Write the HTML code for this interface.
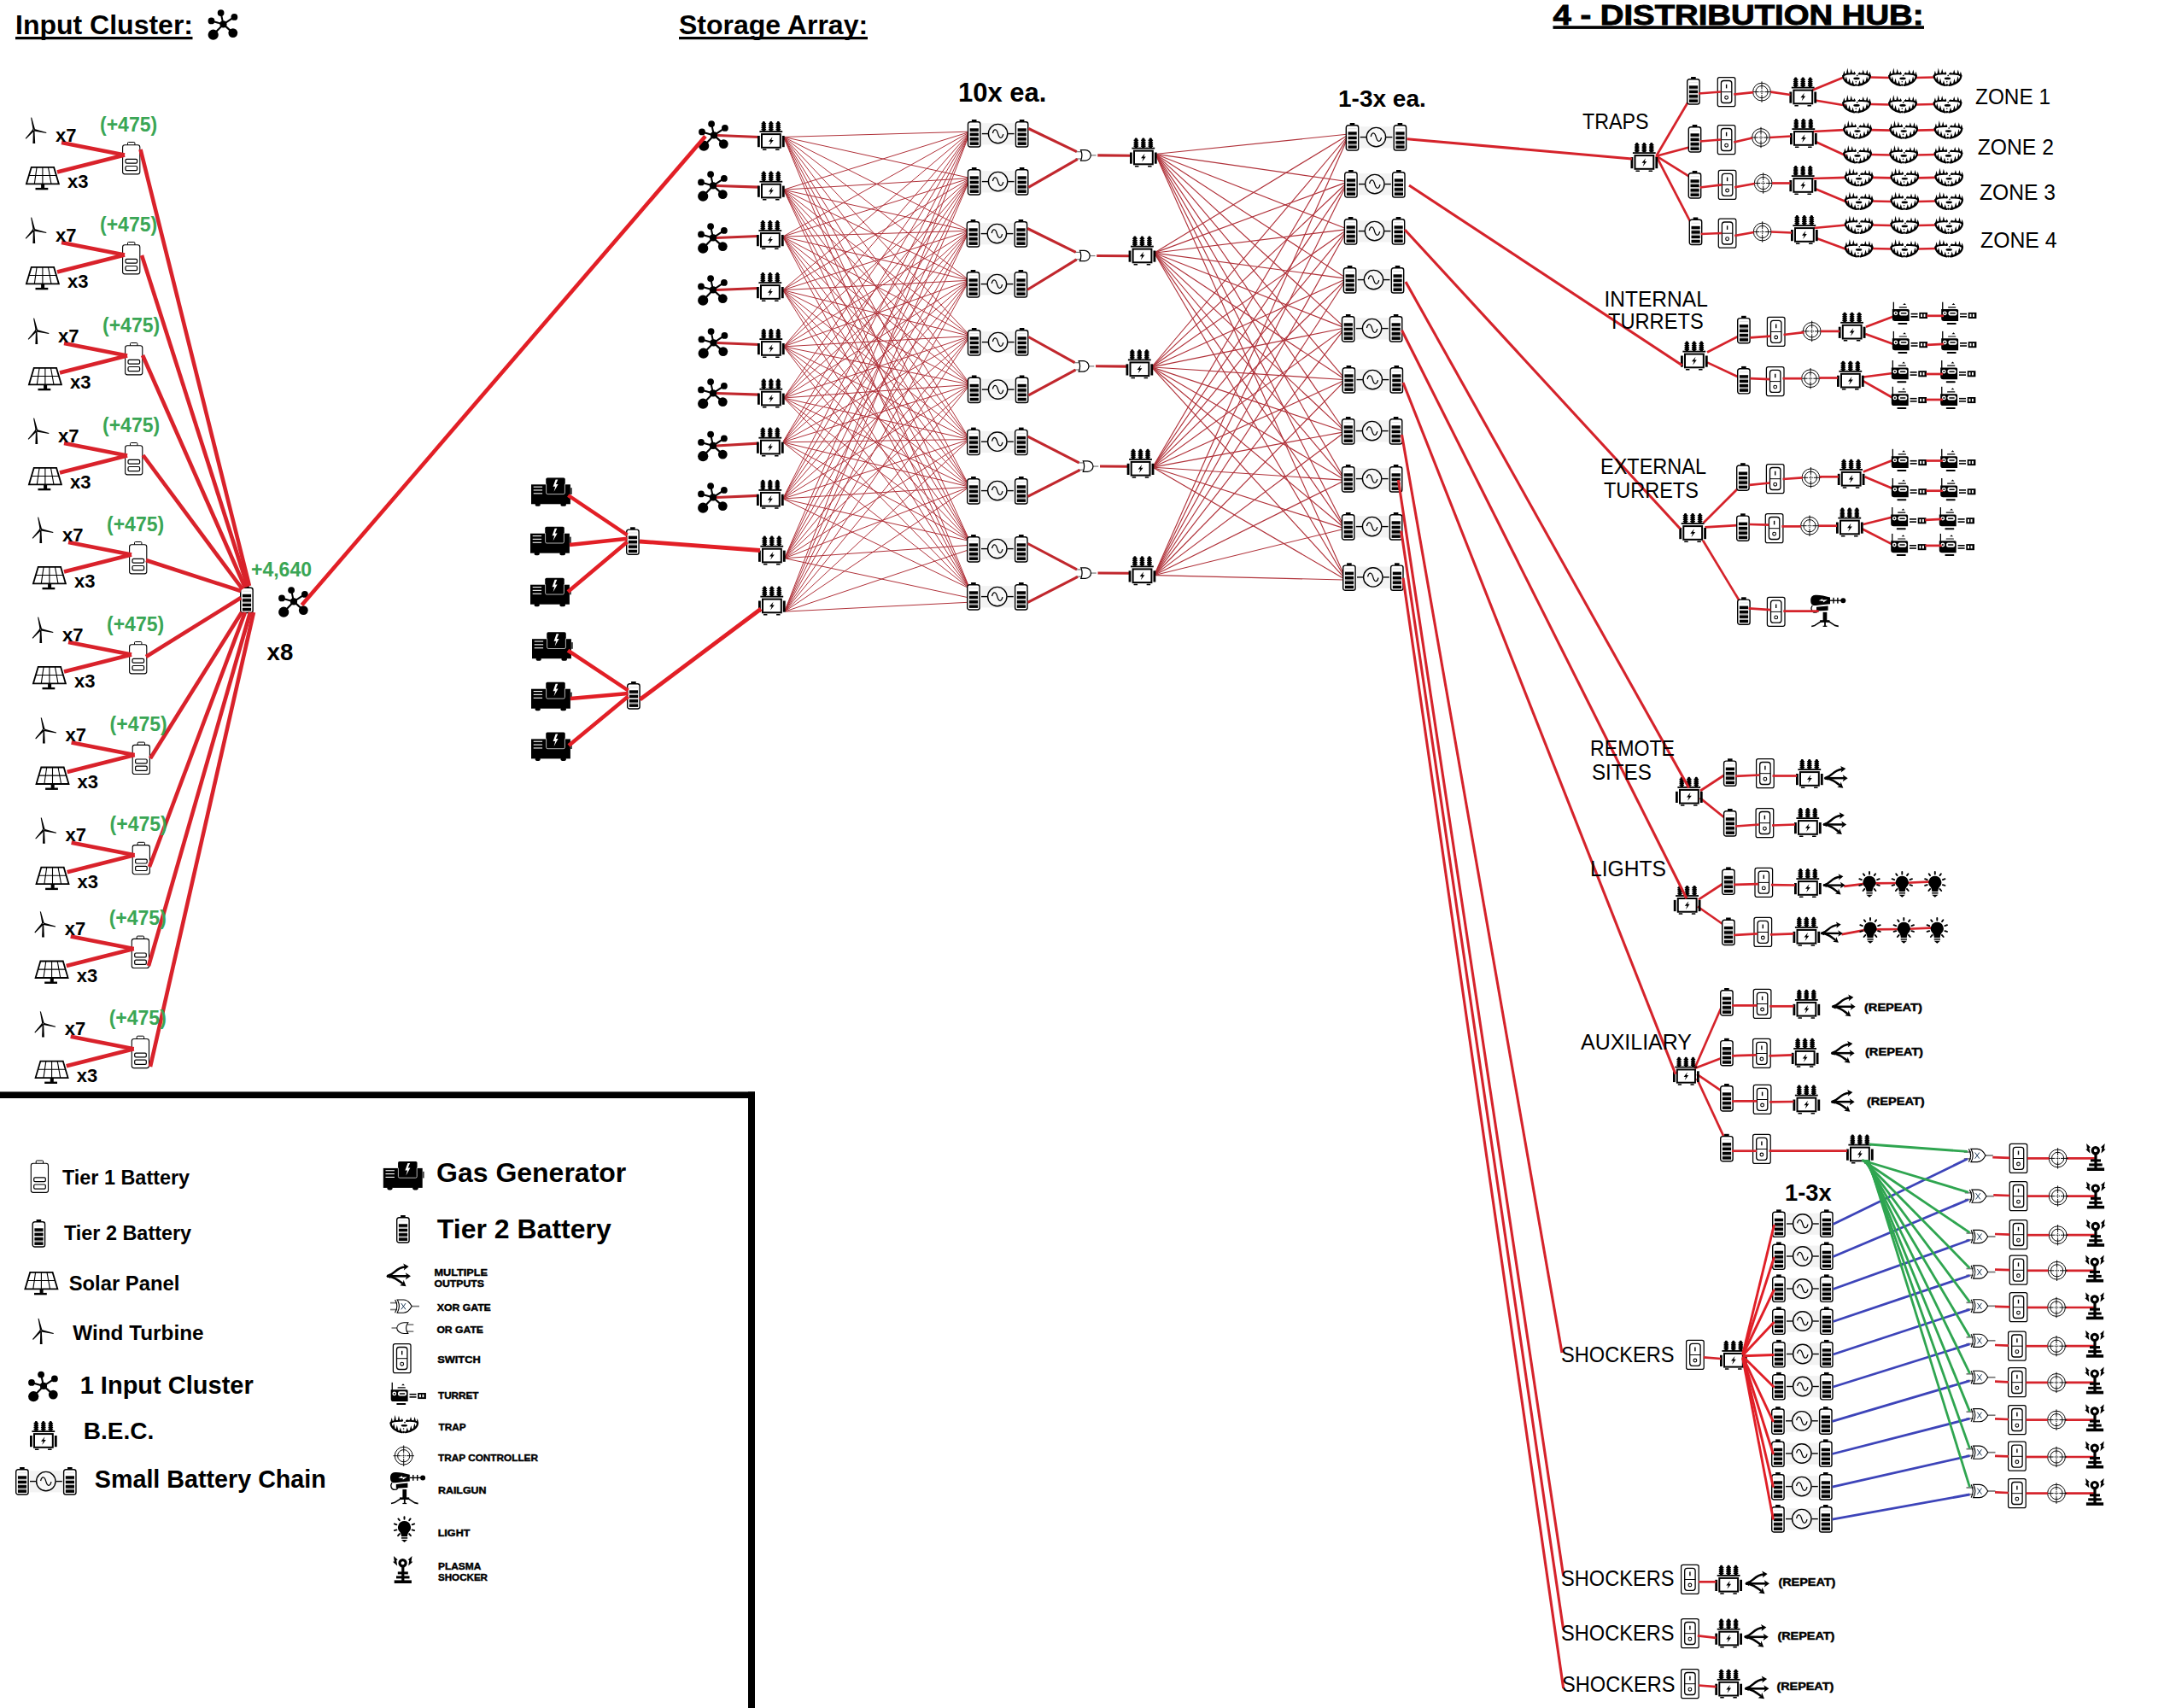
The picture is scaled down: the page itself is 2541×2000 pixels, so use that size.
<!DOCTYPE html>
<html><head><meta charset="utf-8"><title>Power grid diagram</title>
<style>
html,body{margin:0;padding:0;background:#fff;}
body{width:2541px;height:2000px;overflow:hidden;}
svg{display:block;font-family:"Liberation Sans",sans-serif;}
</style></head><body>
<svg width="2541" height="2000" viewBox="0 0 2541 2000">
<defs><symbol id="cluster" viewBox="0 0 35 36" overflow="visible"><line x1="18" y1="17.4" x2="15.1" y2="4.1" stroke="#000" stroke-width="2.1"/><line x1="18" y1="17.4" x2="30.9" y2="8.9" stroke="#000" stroke-width="2.1"/><line x1="18" y1="17.4" x2="4.0" y2="13.4" stroke="#000" stroke-width="2.1"/><line x1="18" y1="17.4" x2="6.2" y2="29.7" stroke="#000" stroke-width="2.1"/><line x1="18" y1="17.4" x2="29.3" y2="27.6" stroke="#000" stroke-width="2.1"/><circle cx="15.1" cy="4.1" r="3.9"/><circle cx="30.9" cy="8.9" r="3.9"/><circle cx="4.0" cy="13.4" r="3.9"/><circle cx="6.2" cy="29.7" r="6.1"/><circle cx="29.3" cy="27.6" r="5.4"/><circle cx="18" cy="17.4" r="4.1"/></symbol><symbol id="bec" viewBox="0 0 32 34" overflow="visible"><rect x="5.9" y="0" width="2.8" height="2.2" rx="1"/><rect x="5.6" y="1" width="3.4" height="10.5"/><rect x="4.4" y="1.9" width="5.8" height="1.7" rx="0.8"/><rect x="4.4" y="4.2" width="5.8" height="1.7" rx="0.8"/><rect x="4.4" y="6.5" width="5.8" height="1.7" rx="0.8"/><rect x="4.4" y="8.8" width="5.8" height="1.7" rx="0.8"/><rect x="14.4" y="0" width="2.8" height="2.2" rx="1"/><rect x="14.100000000000001" y="1" width="3.4" height="10.5"/><rect x="12.9" y="1.9" width="5.8" height="1.7" rx="0.8"/><rect x="12.9" y="4.2" width="5.8" height="1.7" rx="0.8"/><rect x="12.9" y="6.5" width="5.8" height="1.7" rx="0.8"/><rect x="12.9" y="8.8" width="5.8" height="1.7" rx="0.8"/><rect x="22.900000000000002" y="0" width="2.8" height="2.2" rx="1"/><rect x="22.6" y="1" width="3.4" height="10.5"/><rect x="21.400000000000002" y="1.9" width="5.8" height="1.7" rx="0.8"/><rect x="21.400000000000002" y="4.2" width="5.8" height="1.7" rx="0.8"/><rect x="21.400000000000002" y="6.5" width="5.8" height="1.7" rx="0.8"/><rect x="21.400000000000002" y="8.8" width="5.8" height="1.7" rx="0.8"/><rect x="2.4" y="11.2" width="26.8" height="1.8"/><rect x="5" y="15.1" width="21.8" height="15.7" fill="#fff" stroke="#000" stroke-width="2"/><rect x="0" y="17" width="2.8" height="13.2"/><rect x="28.9" y="17" width="2.8" height="13.2"/><rect x="5.9" y="32.4" width="4.6" height="1.5" rx="0.5"/><rect x="21" y="32.4" width="4.6" height="1.5" rx="0.5"/><polygon points="17.5,18.3 13,23.8 15.6,23.8 14.2,28 18.8,21.9 16.3,21.9"/></symbol><symbol id="bat2" viewBox="0 0 16 32.7" overflow="visible"><rect x="5.1" y="0" width="5.6" height="3"/><rect x="0.7" y="2.8" width="14.4" height="29.2" rx="2.6" fill="#fff" stroke="#000" stroke-width="1.4"/><rect x="2.9" y="6.2" width="10.2" height="1" fill="#e2e2e2"/><rect x="2.9" y="10.3" width="10.2" height="3.5"/><rect x="2.9" y="15.7" width="10.2" height="3.5"/><rect x="2.9" y="21.1" width="10.2" height="3.5"/><rect x="2.9" y="26.4" width="10.2" height="3.5"/><rect x="2.9" y="14.4" width="10.2" height="0.8" fill="#9a9a9a"/><rect x="2.9" y="19.8" width="10.2" height="0.8" fill="#9a9a9a"/><rect x="2.9" y="25.2" width="10.2" height="0.8" fill="#9a9a9a"/></symbol><symbol id="chain" viewBox="0 0 71.7 32.7" overflow="visible"><rect x="17" y="4.2" width="38" height="25.2" fill="#f3f3f3"/><rect x="5.1" y="0" width="5.6" height="3"/><rect x="0.7" y="2.8" width="14.4" height="29.2" rx="2.6" fill="#fff" stroke="#000" stroke-width="1.4"/><rect x="2.9" y="6.2" width="10.2" height="1" fill="#e2e2e2"/><rect x="2.9" y="10.3" width="10.2" height="3.5"/><rect x="2.9" y="15.7" width="10.2" height="3.5"/><rect x="2.9" y="21.1" width="10.2" height="3.5"/><rect x="2.9" y="26.4" width="10.2" height="3.5"/><rect x="2.9" y="14.4" width="10.2" height="0.8" fill="#9a9a9a"/><rect x="2.9" y="19.8" width="10.2" height="0.8" fill="#9a9a9a"/><rect x="2.9" y="25.2" width="10.2" height="0.8" fill="#9a9a9a"/><rect x="61.0" y="0" width="5.6" height="3"/><rect x="56.6" y="2.8" width="14.4" height="29.2" rx="2.6" fill="#fff" stroke="#000" stroke-width="1.4"/><rect x="58.8" y="6.2" width="10.2" height="1" fill="#e2e2e2"/><rect x="58.8" y="10.3" width="10.2" height="3.5"/><rect x="58.8" y="15.7" width="10.2" height="3.5"/><rect x="58.8" y="21.1" width="10.2" height="3.5"/><rect x="58.8" y="26.4" width="10.2" height="3.5"/><rect x="58.8" y="14.4" width="10.2" height="0.8" fill="#9a9a9a"/><rect x="58.8" y="19.8" width="10.2" height="0.8" fill="#9a9a9a"/><rect x="58.8" y="25.2" width="10.2" height="0.8" fill="#9a9a9a"/><line x1="17" y1="16.6" x2="24.4" y2="16.6" stroke="#000" stroke-width="1.4"/><line x1="47.4" y1="16.6" x2="54.8" y2="16.6" stroke="#000" stroke-width="1.4"/><circle cx="35.8" cy="16.6" r="11.2" fill="#f8f8f8" stroke="#000" stroke-width="1.4"/><path d="M29.6,16 C31,10.3 34.2,10.6 35.8,16.6 C37.4,22.6 40.6,22.9 42,17.2" fill="none" stroke="#000" stroke-width="1.3"/></symbol><symbol id="gen" viewBox="0 0 48 33.2" overflow="visible"><rect x="0" y="7.7" width="45.9" height="23" /><rect x="45.9" y="11.6" width="2" height="7.7" fill="#444"/><rect x="4.6" y="29.5" width="6.2" height="3.7" rx="1.8"/><rect x="34.4" y="29.5" width="6.6" height="3.7" rx="1.8"/><rect x="17.6" y="0.2" width="21.8" height="18.8" rx="1.6" stroke="#fff" stroke-width="0.7"/><rect x="17.3" y="-0.2" width="22.4" height="8" rx="1.6"/><rect x="2.7" y="10.0" width="10.4" height="1.1" fill="#fff"/><rect x="2.7" y="13.8" width="10.4" height="1.1" fill="#fff"/><rect x="2.7" y="17.7" width="10.4" height="1.1" fill="#fff"/><polygon points="28.6,1.8 25.6,10.2 28.2,10.2 26.6,16.2 31.6,7.4 28.9,7.4 31.3,1.8" fill="#fff"/></symbol><symbol id="or" viewBox="0 0 24.3 13.3" overflow="visible"><g stroke="#777" stroke-width="1.2"><line x1="0" y1="2.5" x2="7.2" y2="2.5"/><line x1="0" y1="10.8" x2="7.2" y2="10.8"/><line x1="18" y1="6.65" x2="24.3" y2="6.65"/></g><path d="M6.3,0.45 L11.5,0.45 C15.2,0.45 18,3.4 18,6.65 C18,9.9 15.2,12.85 11.5,12.85 L6.3,12.85 Q8.9,6.65 6.3,0.45 Z" fill="#fff" stroke="#000" stroke-width="1.25"/></symbol><symbol id="orl" viewBox="0 0 25.8 13.8" overflow="visible"><g stroke="#7a7a7a" stroke-width="1.6"><line x1="18.5" y1="2.9" x2="25.8" y2="2.9"/><line x1="18.5" y1="10.9" x2="25.8" y2="10.9"/><line x1="0" y1="6.8" x2="6.2" y2="6.8"/></g><path d="M19.3,0.5 L14.6,0.5 C10.2,0.5 6.2,3.4 6.2,6.8 C6.2,10.2 10.2,13.3 14.6,13.3 L19.3,13.3 Q14.8,6.8 19.3,0.5 Z" fill="#fff" stroke="#000" stroke-width="1.1"/></symbol><symbol id="xor" viewBox="0 0 34 16.2" overflow="visible"><g stroke="#777" stroke-width="1.7"><line x1="0" y1="4.1" x2="8.2" y2="4.1"/><line x1="0" y1="12" x2="8.2" y2="12"/><line x1="25.2" y1="8.1" x2="34" y2="8.1"/></g><path d="M8.2,0.5 L15.5,0.5 C19.5,0.5 23.3,4.4 25.2,8.1 C23.3,11.8 19.5,15.7 15.5,15.7 L8.2,15.7 Q12.6,8.1 8.2,0.5 Z" fill="#fff" stroke="#000" stroke-width="1.1"/><path d="M5.6,0.5 Q10,8.1 5.6,15.7" fill="none" stroke="#000" stroke-width="1.1"/><path d="M12.8,4.6 L18,11.8 M18,4.6 L12.8,11.8" fill="none" stroke="#1d3a58" stroke-width="1"/></symbol><symbol id="sw" viewBox="0 0 21.8 35.2" overflow="visible"><rect x="0.6" y="0.6" width="20.6" height="34" rx="2.2" fill="#fff" stroke="#000" stroke-width="1.25"/><rect x="4.7" y="4.5" width="12.4" height="26" rx="3" fill="#fff" stroke="#000" stroke-width="1.3"/><line x1="4.6" y1="17.7" x2="17.2" y2="17.7" stroke="#000" stroke-width="1"/><line x1="10.9" y1="8.8" x2="10.9" y2="13.4" stroke="#000" stroke-width="1.4"/><circle cx="10.9" cy="24.2" r="1.9" fill="none" stroke="#000" stroke-width="1.1"/></symbol><symbol id="ctl" viewBox="0 0 24.4 24.4" overflow="visible"><g fill="none" stroke="#0a0a0a" stroke-width="1"><circle cx="12.2" cy="12.2" r="10.4"/><circle cx="12.2" cy="12.2" r="7.1"/><path d="M12.2,0 V8.799999999999999 M12.2,15.6 V24.4 M0,12.2 H8.799999999999999 M15.6,12.2 H24.4"/><path d="M12.2,9.799999999999999 V11.0 M12.2,13.399999999999999 V14.6 M9.799999999999999,12.2 H11.0 M13.399999999999999,12.2 H14.6"/></g><circle cx="12.2" cy="12.2" r="0.8"/></symbol><symbol id="trap" viewBox="0 0 34 22" overflow="visible"><path d="M1.3,10.2 C1.6,15.8 8,19.8 14.2,20.9 M18.8,20.9 C25.6,19.8 32.4,15.8 32.7,10.2" fill="none" stroke="#000" stroke-width="2.3" stroke-linecap="round"/><path d="M1.2,9.8 C3,8 9,7.2 14.6,7.4 M19.6,7.6 C25,7.2 31,8 32.8,10" fill="none" stroke="#000" stroke-width="2" stroke-linecap="round"/><polygon points="0.8999999999999999,9.2 2.4,3.7 3.9,9.2"/><polygon points="4.8,8 6.3,0.4 7.8,8"/><polygon points="9.2,7.6 10.7,1.5 12.2,7.6"/><polygon points="13.0,7.8 14.5,4.4 16.0,7.8"/><polygon points="19.1,8 20.6,5.2 22.1,8"/><polygon points="23.2,7.8 24.7,2.6 26.2,7.8"/><polygon points="27.8,8.2 29.3,2.6 30.8,8.2"/><polygon points="30.9,9.8 32.4,4.8 33.9,9.8"/><polygon points="3.3,16 4.8,10.3 6.3,16"/><polygon points="7.0,18.4 8.5,12.5 10.0,18.4"/><polygon points="11.0,20.2 12.5,15.1 14.0,20.2"/><polygon points="19.0,20.2 20.5,15.1 22.0,20.2"/><polygon points="23.5,18.4 25,12.9 26.5,18.4"/><polygon points="27.6,16 29.1,10.3 30.6,16"/><ellipse cx="17" cy="12.9" rx="3.7" ry="1.3"/><circle cx="17.7" cy="9.3" r="0.85"/><circle cx="16.3" cy="16.7" r="0.8"/><circle cx="16.3" cy="20.6" r="1.4"/></symbol><symbol id="turret" viewBox="0 0 41.4 26.2" overflow="visible"><rect x="1.1" y="0" width="1.3" height="10"/><polygon points="12.6,3.4 14.5,1.4 16.4,3.4"/><rect x="8" y="5.5" width="9.4" height="1.2" rx="0.6"/><path d="M0.2,8.4 H18.6 Q20.1,8.4 20.1,9.9 V22.3 H3.4 Q0.2,22.3 0.2,19.1 Z"/><circle cx="4.3" cy="13.1" r="1.7" fill="#000" stroke="#fff" stroke-width="1.4"/><rect x="8.5" y="10.5" width="10" height="5.3" rx="2" fill="#fff"/><rect x="10.2" y="12.4" width="6.7" height="1.5" rx="0.7"/><rect x="6.7" y="24.2" width="11.1" height="2" rx="1"/><rect x="22" y="13.1" width="8" height="1.6"/><rect x="22" y="16.3" width="8" height="1.6"/><rect x="31.7" y="12.2" width="9.7" height="7.1"/><rect x="33.5" y="14" width="1.9" height="3.4" fill="#fff"/><rect x="37" y="14" width="1.9" height="3.4" fill="#fff"/></symbol><symbol id="rail" viewBox="0 0 41.2 37.4" overflow="visible"><path d="M5.5,0.2 C10,-0.3 16,1 23,3 V10.6 C16,11.2 9,12 5,12.4 C1.5,12.6 0.2,10 0.2,6.4 C0.2,2.8 2,0.5 5.5,0.2 Z"/><polygon points="9.6,6.7 14.4,4.3 14,5.9 20,5.6 14.8,8.9 15.2,7.4" fill="#fff"/><rect x="23" y="5.9" width="13.5" height="1.4"/><rect x="26.3" y="3.2" width="1.4" height="6.8"/><rect x="31.2" y="3.2" width="1.4" height="6.8"/><circle cx="38.3" cy="6.6" r="3"/><path d="M2.2,12.4 C0,15.6 1,20.6 5.4,20.6 C8.6,20.6 9.6,18.4 9,16.2" fill="none" stroke="#000" stroke-width="1.3"/><polygon points="7,14.2 20.6,12.8 20.6,18.2 7,18.9"/><rect x="14.6" y="20.2" width="4.7" height="10.4"/><rect x="11.2" y="29.6" width="11.2" height="2.6"/><path d="M12.4,31 L5,35.8 L1.2,36.8 M21.4,31 L28.6,35.8 L32.8,36.8" fill="none" stroke="#000" stroke-width="1.6" stroke-linejoin="round"/><rect x="16.1" y="31" width="1.8" height="6"/><rect x="14.6" y="36.1" width="4.8" height="1.2"/></symbol><symbol id="light" viewBox="0 0 26.4 31" overflow="visible"><path d="M13.3,6 A7.5,7.5 0 0 1 18.6,18.8 C17.4,20.4 16.9,22.2 16.8,24.3 H9.8 C9.7,22.2 9.2,20.4 8,18.8 A7.5,7.5 0 0 1 13.3,6 Z"/><rect x="9.7" y="25.2" width="7.3" height="1.5"/><polygon points="9.7,28 17,28 13.3,31"/><g stroke="#000" stroke-width="1.9" stroke-linecap="round"><line x1="13.3" y1="1.2" x2="13.3" y2="3.7"/><line x1="6.2" y1="3.4" x2="7.6" y2="5.3"/><line x1="20.4" y1="3.4" x2="19" y2="5.3"/><line x1="1.6" y1="9.4" x2="4.2" y2="10.3"/><line x1="25" y1="9.4" x2="22.4" y2="10.3"/><line x1="1.6" y1="17.1" x2="4.2" y2="16.4"/><line x1="25" y1="17.1" x2="22.4" y2="16.4"/><line x1="5.9" y1="23.2" x2="7.7" y2="21.1"/><line x1="20.7" y1="23.2" x2="18.9" y2="21.1"/></g></symbol><symbol id="shock" viewBox="0 0 23 32" overflow="visible"><circle cx="11.4" cy="8.2" r="3.6" fill="#fff" stroke="#000" stroke-width="3.2"/><rect x="10" y="12.4" width="3.2" height="17"/><rect x="5.6" y="18.4" width="12" height="3"/><rect x="3.8" y="23.4" width="15.5" height="3"/><rect x="1.5" y="28.4" width="20.2" height="3.6"/><polygon points="0.7,0 5.6,4.5 4,4.9 5,11.4 -0.2,6.8 1.6,6.4"/><polygon points="22.3,0 17.4,4.5 19,4.9 18,11.4 23.2,6.8 21.4,6.4"/></symbol><symbol id="arrow" viewBox="0 0 29 26.4" overflow="visible"><g fill="none" stroke="#000" stroke-width="2.6"><path d="M1,14.3 H24.5"/><path d="M1.2,14.3 C11,12.4 10.5,4.4 22.4,3.5"/><path d="M1.2,14.3 C9,15 13,18 19.6,23"/></g><polygon points="0,14.3 5,11.6 5,17"/><polygon points="29,14.3 22.8,10.2 24.3,14.3 22.8,18.4"/><polygon points="26.6,2.9 20.2,-0.4 21.8,3.5 20.8,7.5"/><polygon points="23.5,26.2 16.2,25.2 19.8,22.8 20.6,18.7"/></symbol><symbol id="wind" viewBox="0 0 25 30.5" overflow="visible"><polygon points="9.4,16 11,16 11.7,30.5 8.9,30.5"/><polygon points="6.6,0.2 7.7,0.4 11.5,13.8 9.1,14.6"/><polygon points="24.9,17.6 24.7,18.6 10.2,16 10.9,13.6"/><polygon points="0.2,24.6 0.9,25.4 10.9,15.6 9,13.8"/><circle cx="10.1" cy="14.6" r="1.5"/><circle cx="10.1" cy="14.6" r="0.5" fill="#fff"/></symbol><symbol id="solar" viewBox="0 0 40.8 27.3" overflow="visible"><polygon points="7.2,0.9 33.6,0.9 39.4,20.4 1.4,20.4" fill="#fff" stroke="#000" stroke-width="1.8"/><g stroke="#000" stroke-width="1.1"><line x1="13.6" y1="0.9" x2="10.8" y2="20.4"/><line x1="20.4" y1="0.9" x2="20.4" y2="20.4"/><line x1="27" y1="0.9" x2="30.5" y2="20.4"/><line x1="4" y1="10.5" x2="36.7" y2="10.5"/></g><rect x="18.6" y="20.4" width="4" height="5"/><rect x="12" y="24.9" width="14.8" height="2.4"/></symbol><symbol id="bat1" viewBox="0 0 21.4 38.5" overflow="visible"><rect x="6.5" y="0.5" width="8.4" height="4" rx="1" fill="#fff" stroke="#000" stroke-width="1"/><rect x="0.6" y="3.8" width="20.2" height="34.1" rx="2.6" fill="#fff" stroke="#000" stroke-width="1.1"/><rect x="4" y="20.4" width="13.6" height="4.8" rx="1.4" fill="#fff" stroke="#000" stroke-width="1.2"/><rect x="4" y="28.5" width="13.6" height="5.2" rx="1.4" fill="#fff" stroke="#000" stroke-width="1.2"/></symbol></defs>
<rect width="2541" height="2000" fill="#fff"/>
<g id="lines-back">
<line x1="840" y1="158.5" x2="889" y2="160.5" stroke="#c1272d" stroke-width="3.2"/>
<line x1="839" y1="217.5" x2="889" y2="219.1" stroke="#c1272d" stroke-width="3.2"/>
<line x1="839" y1="278.5" x2="888" y2="276.5" stroke="#c1272d" stroke-width="3.2"/>
<line x1="839" y1="339.5" x2="888" y2="337.5" stroke="#c1272d" stroke-width="3.2"/>
<line x1="839.5" y1="401.5" x2="889" y2="403.5" stroke="#c1272d" stroke-width="3.2"/>
<line x1="839" y1="460.5" x2="889" y2="462.1" stroke="#c1272d" stroke-width="3.2"/>
<line x1="839" y1="522" x2="888" y2="519.1" stroke="#c1272d" stroke-width="3.2"/>
<line x1="839" y1="582.5" x2="888" y2="580.3" stroke="#c1272d" stroke-width="3.2"/>
<line x1="918.5" y1="160.4" x2="1134.3" y2="154.2" stroke="#b0323a" stroke-width="1.0"/>
<line x1="918.5" y1="160.6" x2="1134.3" y2="208.1" stroke="#b0323a" stroke-width="1.0"/>
<line x1="918.5" y1="160.9" x2="1133.1" y2="269.2" stroke="#b0323a" stroke-width="1.0"/>
<line x1="918.5" y1="161.1" x2="1133.1" y2="326.7" stroke="#b0323a" stroke-width="1.0"/>
<line x1="918.5" y1="161.4" x2="1134.3" y2="391.4" stroke="#b0323a" stroke-width="1.0"/>
<line x1="918.5" y1="161.6" x2="1134.3" y2="447.7" stroke="#b0323a" stroke-width="1.0"/>
<line x1="918.5" y1="161.9" x2="1133.5" y2="511.3" stroke="#b0323a" stroke-width="1.0"/>
<line x1="918.5" y1="162.1" x2="1133.5" y2="566.4" stroke="#b0323a" stroke-width="1.0"/>
<line x1="918.5" y1="162.4" x2="1133.5" y2="629.1" stroke="#b0323a" stroke-width="1.0"/>
<line x1="918.5" y1="162.6" x2="1133.5" y2="684.3" stroke="#b0323a" stroke-width="1.0"/>
<line x1="918.5" y1="221.9" x2="1134.3" y2="154.8" stroke="#b0323a" stroke-width="1.0"/>
<line x1="918.5" y1="222.1" x2="1134.3" y2="208.7" stroke="#b0323a" stroke-width="1.0"/>
<line x1="918.5" y1="222.4" x2="1133.1" y2="269.8" stroke="#b0323a" stroke-width="1.0"/>
<line x1="918.5" y1="222.6" x2="1133.1" y2="327.3" stroke="#b0323a" stroke-width="1.0"/>
<line x1="918.5" y1="222.9" x2="1134.3" y2="392" stroke="#b0323a" stroke-width="1.0"/>
<line x1="918.5" y1="223.1" x2="1134.3" y2="448.3" stroke="#b0323a" stroke-width="1.0"/>
<line x1="918.5" y1="223.4" x2="1133.5" y2="511.9" stroke="#b0323a" stroke-width="1.0"/>
<line x1="918.5" y1="223.6" x2="1133.5" y2="567" stroke="#b0323a" stroke-width="1.0"/>
<line x1="918.5" y1="223.9" x2="1133.5" y2="629.7" stroke="#b0323a" stroke-width="1.0"/>
<line x1="918.5" y1="224.1" x2="1133.5" y2="684.9" stroke="#b0323a" stroke-width="1.0"/>
<line x1="917.5" y1="276.6" x2="1134.3" y2="155.3" stroke="#b0323a" stroke-width="1.0"/>
<line x1="917.5" y1="276.8" x2="1134.3" y2="209.2" stroke="#b0323a" stroke-width="1.0"/>
<line x1="917.5" y1="277.1" x2="1133.1" y2="270.3" stroke="#b0323a" stroke-width="1.0"/>
<line x1="917.5" y1="277.3" x2="1133.1" y2="327.8" stroke="#b0323a" stroke-width="1.0"/>
<line x1="917.5" y1="277.6" x2="1134.3" y2="392.5" stroke="#b0323a" stroke-width="1.0"/>
<line x1="917.5" y1="277.8" x2="1134.3" y2="448.8" stroke="#b0323a" stroke-width="1.0"/>
<line x1="917.5" y1="278.1" x2="1133.5" y2="512.4" stroke="#b0323a" stroke-width="1.0"/>
<line x1="917.5" y1="278.3" x2="1133.5" y2="567.5" stroke="#b0323a" stroke-width="1.0"/>
<line x1="917.5" y1="278.6" x2="1133.5" y2="630.2" stroke="#b0323a" stroke-width="1.0"/>
<line x1="917.5" y1="278.8" x2="1133.5" y2="685.4" stroke="#b0323a" stroke-width="1.0"/>
<line x1="917.5" y1="338.9" x2="1134.3" y2="155.9" stroke="#b0323a" stroke-width="1.0"/>
<line x1="917.5" y1="339.1" x2="1134.3" y2="209.8" stroke="#b0323a" stroke-width="1.0"/>
<line x1="917.5" y1="339.4" x2="1133.1" y2="270.9" stroke="#b0323a" stroke-width="1.0"/>
<line x1="917.5" y1="339.6" x2="1133.1" y2="328.4" stroke="#b0323a" stroke-width="1.0"/>
<line x1="917.5" y1="339.9" x2="1134.3" y2="393.1" stroke="#b0323a" stroke-width="1.0"/>
<line x1="917.5" y1="340.1" x2="1134.3" y2="449.4" stroke="#b0323a" stroke-width="1.0"/>
<line x1="917.5" y1="340.4" x2="1133.5" y2="513" stroke="#b0323a" stroke-width="1.0"/>
<line x1="917.5" y1="340.6" x2="1133.5" y2="568.1" stroke="#b0323a" stroke-width="1.0"/>
<line x1="917.5" y1="340.9" x2="1133.5" y2="630.8" stroke="#b0323a" stroke-width="1.0"/>
<line x1="917.5" y1="341.1" x2="1133.5" y2="686" stroke="#b0323a" stroke-width="1.0"/>
<line x1="918.5" y1="404.8" x2="1134.3" y2="156.4" stroke="#b0323a" stroke-width="1.0"/>
<line x1="918.5" y1="405" x2="1134.3" y2="210.3" stroke="#b0323a" stroke-width="1.0"/>
<line x1="918.5" y1="405.3" x2="1133.1" y2="271.4" stroke="#b0323a" stroke-width="1.0"/>
<line x1="918.5" y1="405.5" x2="1133.1" y2="328.9" stroke="#b0323a" stroke-width="1.0"/>
<line x1="918.5" y1="405.8" x2="1134.3" y2="393.6" stroke="#b0323a" stroke-width="1.0"/>
<line x1="918.5" y1="406" x2="1134.3" y2="449.9" stroke="#b0323a" stroke-width="1.0"/>
<line x1="918.5" y1="406.3" x2="1133.5" y2="513.5" stroke="#b0323a" stroke-width="1.0"/>
<line x1="918.5" y1="406.5" x2="1133.5" y2="568.6" stroke="#b0323a" stroke-width="1.0"/>
<line x1="918.5" y1="406.8" x2="1133.5" y2="631.3" stroke="#b0323a" stroke-width="1.0"/>
<line x1="918.5" y1="407" x2="1133.5" y2="686.5" stroke="#b0323a" stroke-width="1.0"/>
<line x1="918.5" y1="464.7" x2="1134.3" y2="157" stroke="#b0323a" stroke-width="1.0"/>
<line x1="918.5" y1="464.9" x2="1134.3" y2="210.9" stroke="#b0323a" stroke-width="1.0"/>
<line x1="918.5" y1="465.2" x2="1133.1" y2="272" stroke="#b0323a" stroke-width="1.0"/>
<line x1="918.5" y1="465.4" x2="1133.1" y2="329.5" stroke="#b0323a" stroke-width="1.0"/>
<line x1="918.5" y1="465.7" x2="1134.3" y2="394.2" stroke="#b0323a" stroke-width="1.0"/>
<line x1="918.5" y1="465.9" x2="1134.3" y2="450.5" stroke="#b0323a" stroke-width="1.0"/>
<line x1="918.5" y1="466.2" x2="1133.5" y2="514.1" stroke="#b0323a" stroke-width="1.0"/>
<line x1="918.5" y1="466.4" x2="1133.5" y2="569.2" stroke="#b0323a" stroke-width="1.0"/>
<line x1="918.5" y1="466.7" x2="1133.5" y2="631.9" stroke="#b0323a" stroke-width="1.0"/>
<line x1="918.5" y1="466.9" x2="1133.5" y2="687.1" stroke="#b0323a" stroke-width="1.0"/>
<line x1="917.5" y1="516.3" x2="1134.3" y2="157.5" stroke="#b0323a" stroke-width="1.0"/>
<line x1="917.5" y1="516.5" x2="1134.3" y2="211.4" stroke="#b0323a" stroke-width="1.0"/>
<line x1="917.5" y1="516.8" x2="1133.1" y2="272.5" stroke="#b0323a" stroke-width="1.0"/>
<line x1="917.5" y1="517" x2="1133.1" y2="330" stroke="#b0323a" stroke-width="1.0"/>
<line x1="917.5" y1="517.3" x2="1134.3" y2="394.7" stroke="#b0323a" stroke-width="1.0"/>
<line x1="917.5" y1="517.5" x2="1134.3" y2="451" stroke="#b0323a" stroke-width="1.0"/>
<line x1="917.5" y1="517.8" x2="1133.5" y2="514.6" stroke="#b0323a" stroke-width="1.0"/>
<line x1="917.5" y1="518" x2="1133.5" y2="569.7" stroke="#b0323a" stroke-width="1.0"/>
<line x1="917.5" y1="518.3" x2="1133.5" y2="632.4" stroke="#b0323a" stroke-width="1.0"/>
<line x1="917.5" y1="518.5" x2="1133.5" y2="687.6" stroke="#b0323a" stroke-width="1.0"/>
<line x1="917.5" y1="582.2" x2="1134.3" y2="158.1" stroke="#b0323a" stroke-width="1.0"/>
<line x1="917.5" y1="582.4" x2="1134.3" y2="212" stroke="#b0323a" stroke-width="1.0"/>
<line x1="917.5" y1="582.7" x2="1133.1" y2="273.1" stroke="#b0323a" stroke-width="1.0"/>
<line x1="917.5" y1="582.9" x2="1133.1" y2="330.6" stroke="#b0323a" stroke-width="1.0"/>
<line x1="917.5" y1="583.2" x2="1134.3" y2="395.3" stroke="#b0323a" stroke-width="1.0"/>
<line x1="917.5" y1="583.4" x2="1134.3" y2="451.6" stroke="#b0323a" stroke-width="1.0"/>
<line x1="917.5" y1="583.7" x2="1133.5" y2="515.2" stroke="#b0323a" stroke-width="1.0"/>
<line x1="917.5" y1="583.9" x2="1133.5" y2="570.3" stroke="#b0323a" stroke-width="1.0"/>
<line x1="917.5" y1="584.2" x2="1133.5" y2="633" stroke="#b0323a" stroke-width="1.0"/>
<line x1="917.5" y1="584.4" x2="1133.5" y2="688.2" stroke="#b0323a" stroke-width="1.0"/>
<line x1="919.5" y1="651.7" x2="1134.3" y2="158.6" stroke="#b0323a" stroke-width="1.0"/>
<line x1="919.5" y1="651.9" x2="1134.3" y2="212.5" stroke="#b0323a" stroke-width="1.0"/>
<line x1="919.5" y1="652.2" x2="1133.1" y2="273.6" stroke="#b0323a" stroke-width="1.0"/>
<line x1="919.5" y1="652.4" x2="1133.1" y2="331.1" stroke="#b0323a" stroke-width="1.0"/>
<line x1="919.5" y1="652.7" x2="1134.3" y2="395.8" stroke="#b0323a" stroke-width="1.0"/>
<line x1="919.5" y1="652.9" x2="1134.3" y2="452.1" stroke="#b0323a" stroke-width="1.0"/>
<line x1="919.5" y1="653.2" x2="1133.5" y2="515.7" stroke="#b0323a" stroke-width="1.0"/>
<line x1="919.5" y1="653.4" x2="1133.5" y2="570.8" stroke="#b0323a" stroke-width="1.0"/>
<line x1="919.5" y1="653.7" x2="1133.5" y2="638.5" stroke="#b0323a" stroke-width="1.0"/>
<line x1="919.5" y1="653.9" x2="1133.5" y2="699.7" stroke="#b0323a" stroke-width="1.0"/>
<line x1="919.5" y1="713.9" x2="1134.3" y2="159.2" stroke="#b0323a" stroke-width="1.0"/>
<line x1="919.5" y1="714.1" x2="1134.3" y2="213.1" stroke="#b0323a" stroke-width="1.0"/>
<line x1="919.5" y1="714.4" x2="1133.1" y2="274.2" stroke="#b0323a" stroke-width="1.0"/>
<line x1="919.5" y1="714.6" x2="1133.1" y2="331.7" stroke="#b0323a" stroke-width="1.0"/>
<line x1="919.5" y1="714.9" x2="1134.3" y2="396.4" stroke="#b0323a" stroke-width="1.0"/>
<line x1="919.5" y1="715.1" x2="1134.3" y2="452.7" stroke="#b0323a" stroke-width="1.0"/>
<line x1="919.5" y1="715.4" x2="1133.5" y2="516.3" stroke="#b0323a" stroke-width="1.0"/>
<line x1="919.5" y1="715.6" x2="1133.5" y2="571.4" stroke="#b0323a" stroke-width="1.0"/>
<line x1="919.5" y1="715.9" x2="1133.5" y2="644.1" stroke="#b0323a" stroke-width="1.0"/>
<line x1="919.5" y1="716.1" x2="1133.5" y2="705.3" stroke="#b0323a" stroke-width="1.0"/>
<line x1="1285.3" y1="181.9" x2="1325" y2="182.2" stroke="#c1272d" stroke-width="3.1"/>
<line x1="1284.2" y1="299.5" x2="1323.6" y2="299.8" stroke="#c1272d" stroke-width="3.1"/>
<line x1="1283" y1="428.8" x2="1320.5" y2="429.1" stroke="#c1272d" stroke-width="3.1"/>
<line x1="1288" y1="546" x2="1321.7" y2="546.3" stroke="#c1272d" stroke-width="3.1"/>
<line x1="1285.5" y1="671" x2="1323.6" y2="671.3" stroke="#c1272d" stroke-width="3.1"/>
<line x1="1354.5" y1="180.2" x2="1577.1" y2="157.3" stroke="#b0323a" stroke-width="1.15"/>
<line x1="1354.5" y1="180.6" x2="1575.5" y2="212.3" stroke="#b0323a" stroke-width="1.15"/>
<line x1="1354.5" y1="181" x2="1575.2" y2="267.3" stroke="#b0323a" stroke-width="1.15"/>
<line x1="1354.5" y1="181.4" x2="1574.2" y2="324.3" stroke="#b0323a" stroke-width="1.15"/>
<line x1="1354.5" y1="181.8" x2="1572.3" y2="381.3" stroke="#b0323a" stroke-width="1.15"/>
<line x1="1354.5" y1="182.2" x2="1573" y2="441.3" stroke="#b0323a" stroke-width="1.15"/>
<line x1="1354.5" y1="182.6" x2="1572.3" y2="501.3" stroke="#b0323a" stroke-width="1.15"/>
<line x1="1354.5" y1="183" x2="1572.3" y2="557.3" stroke="#b0323a" stroke-width="1.15"/>
<line x1="1354.5" y1="183.4" x2="1572.3" y2="613.3" stroke="#b0323a" stroke-width="1.15"/>
<line x1="1354.5" y1="183.8" x2="1573.5" y2="672.6" stroke="#b0323a" stroke-width="1.15"/>
<line x1="1353.1" y1="295.2" x2="1577.1" y2="158.9" stroke="#b0323a" stroke-width="1.15"/>
<line x1="1353.1" y1="295.6" x2="1575.5" y2="213.9" stroke="#b0323a" stroke-width="1.15"/>
<line x1="1353.1" y1="296" x2="1575.2" y2="268.9" stroke="#b0323a" stroke-width="1.15"/>
<line x1="1353.1" y1="296.4" x2="1574.2" y2="325.9" stroke="#b0323a" stroke-width="1.15"/>
<line x1="1353.1" y1="296.8" x2="1572.3" y2="382.9" stroke="#b0323a" stroke-width="1.15"/>
<line x1="1353.1" y1="297.2" x2="1573" y2="442.9" stroke="#b0323a" stroke-width="1.15"/>
<line x1="1353.1" y1="297.6" x2="1572.3" y2="502.9" stroke="#b0323a" stroke-width="1.15"/>
<line x1="1353.1" y1="298" x2="1572.3" y2="558.9" stroke="#b0323a" stroke-width="1.15"/>
<line x1="1353.1" y1="298.4" x2="1572.3" y2="614.9" stroke="#b0323a" stroke-width="1.15"/>
<line x1="1353.1" y1="298.8" x2="1573.5" y2="674.2" stroke="#b0323a" stroke-width="1.15"/>
<line x1="1350" y1="428" x2="1577.1" y2="160.5" stroke="#b0323a" stroke-width="1.15"/>
<line x1="1350" y1="428.4" x2="1575.5" y2="215.5" stroke="#b0323a" stroke-width="1.15"/>
<line x1="1350" y1="428.8" x2="1575.2" y2="270.5" stroke="#b0323a" stroke-width="1.15"/>
<line x1="1350" y1="429.2" x2="1574.2" y2="327.5" stroke="#b0323a" stroke-width="1.15"/>
<line x1="1350" y1="429.6" x2="1572.3" y2="384.5" stroke="#b0323a" stroke-width="1.15"/>
<line x1="1350" y1="430" x2="1573" y2="444.5" stroke="#b0323a" stroke-width="1.15"/>
<line x1="1350" y1="430.4" x2="1572.3" y2="504.5" stroke="#b0323a" stroke-width="1.15"/>
<line x1="1350" y1="430.8" x2="1572.3" y2="560.5" stroke="#b0323a" stroke-width="1.15"/>
<line x1="1350" y1="431.2" x2="1572.3" y2="616.5" stroke="#b0323a" stroke-width="1.15"/>
<line x1="1350" y1="431.6" x2="1573.5" y2="675.8" stroke="#b0323a" stroke-width="1.15"/>
<line x1="1351.2" y1="544.5" x2="1577.1" y2="162.1" stroke="#b0323a" stroke-width="1.15"/>
<line x1="1351.2" y1="544.9" x2="1575.5" y2="217.1" stroke="#b0323a" stroke-width="1.15"/>
<line x1="1351.2" y1="545.3" x2="1575.2" y2="272.1" stroke="#b0323a" stroke-width="1.15"/>
<line x1="1351.2" y1="545.7" x2="1574.2" y2="329.1" stroke="#b0323a" stroke-width="1.15"/>
<line x1="1351.2" y1="546.1" x2="1572.3" y2="386.1" stroke="#b0323a" stroke-width="1.15"/>
<line x1="1351.2" y1="546.5" x2="1573" y2="446.1" stroke="#b0323a" stroke-width="1.15"/>
<line x1="1351.2" y1="546.9" x2="1572.3" y2="506.1" stroke="#b0323a" stroke-width="1.15"/>
<line x1="1351.2" y1="547.3" x2="1572.3" y2="562.1" stroke="#b0323a" stroke-width="1.15"/>
<line x1="1351.2" y1="547.7" x2="1572.3" y2="618.1" stroke="#b0323a" stroke-width="1.15"/>
<line x1="1351.2" y1="548.1" x2="1573.5" y2="677.4" stroke="#b0323a" stroke-width="1.15"/>
<line x1="1353.1" y1="670" x2="1577.1" y2="163.7" stroke="#b0323a" stroke-width="1.15"/>
<line x1="1353.1" y1="670.4" x2="1575.5" y2="218.7" stroke="#b0323a" stroke-width="1.15"/>
<line x1="1353.1" y1="670.8" x2="1575.2" y2="273.7" stroke="#b0323a" stroke-width="1.15"/>
<line x1="1353.1" y1="671.2" x2="1574.2" y2="330.7" stroke="#b0323a" stroke-width="1.15"/>
<line x1="1353.1" y1="671.6" x2="1572.3" y2="387.7" stroke="#b0323a" stroke-width="1.15"/>
<line x1="1353.1" y1="672" x2="1573" y2="447.7" stroke="#b0323a" stroke-width="1.15"/>
<line x1="1353.1" y1="672.4" x2="1572.3" y2="507.7" stroke="#b0323a" stroke-width="1.15"/>
<line x1="1353.1" y1="672.8" x2="1572.3" y2="563.7" stroke="#b0323a" stroke-width="1.15"/>
<line x1="1353.1" y1="673.2" x2="1572.3" y2="619.7" stroke="#b0323a" stroke-width="1.15"/>
<line x1="1353.1" y1="673.6" x2="1573.5" y2="679" stroke="#b0323a" stroke-width="1.15"/>
<line x1="1939.4" y1="182.7" x2="1977.5" y2="118" stroke="#d5232b" stroke-width="2.7"/>
<line x1="2122.4" y1="105.5" x2="2159" y2="90.5" stroke="#d5232b" stroke-width="2.7"/>
<line x1="2125.4" y1="117.5" x2="2161" y2="123.5" stroke="#d5232b" stroke-width="2.7"/>
<line x1="2189" y1="90.5" x2="2213" y2="91" stroke="#d5232b" stroke-width="2.7"/>
<line x1="2243" y1="91" x2="2265.5" y2="90.5" stroke="#d5232b" stroke-width="2.7"/>
<line x1="2189" y1="122" x2="2213" y2="122.5" stroke="#d5232b" stroke-width="2.7"/>
<line x1="2243" y1="122.5" x2="2265.5" y2="122" stroke="#d5232b" stroke-width="2.7"/>
<line x1="1939.4" y1="182.7" x2="1978" y2="172.5" stroke="#d5232b" stroke-width="2.7"/>
<line x1="2123" y1="154" x2="2160" y2="152.2" stroke="#d5232b" stroke-width="2.7"/>
<line x1="2126" y1="166" x2="2162" y2="182.5" stroke="#d5232b" stroke-width="2.7"/>
<line x1="2190" y1="152.2" x2="2214.2" y2="152.7" stroke="#d5232b" stroke-width="2.7"/>
<line x1="2244.2" y1="152.7" x2="2266.5" y2="152.2" stroke="#d5232b" stroke-width="2.7"/>
<line x1="2190" y1="181" x2="2214.2" y2="181.5" stroke="#d5232b" stroke-width="2.7"/>
<line x1="2244.2" y1="181.5" x2="2266.5" y2="181" stroke="#d5232b" stroke-width="2.7"/>
<line x1="1939.4" y1="182.7" x2="1978" y2="206.6" stroke="#d5232b" stroke-width="2.7"/>
<line x1="2122.4" y1="209" x2="2161.6" y2="207.8" stroke="#d5232b" stroke-width="2.7"/>
<line x1="2125.4" y1="221" x2="2163.6" y2="237" stroke="#d5232b" stroke-width="2.7"/>
<line x1="2191.6" y1="207.8" x2="2215.3" y2="208.3" stroke="#d5232b" stroke-width="2.7"/>
<line x1="2245.3" y1="208.3" x2="2267.2" y2="207.8" stroke="#d5232b" stroke-width="2.7"/>
<line x1="2191.6" y1="235.5" x2="2215.3" y2="236" stroke="#d5232b" stroke-width="2.7"/>
<line x1="2245.3" y1="236" x2="2267.2" y2="235.5" stroke="#d5232b" stroke-width="2.7"/>
<line x1="1939.4" y1="182.7" x2="1980" y2="261" stroke="#d5232b" stroke-width="2.7"/>
<line x1="2124" y1="267" x2="2161.6" y2="263.5" stroke="#d5232b" stroke-width="2.7"/>
<line x1="2127" y1="279" x2="2163.6" y2="292.5" stroke="#d5232b" stroke-width="2.7"/>
<line x1="2191.6" y1="263.5" x2="2215.3" y2="264" stroke="#d5232b" stroke-width="2.7"/>
<line x1="2245.3" y1="264" x2="2267.2" y2="263.5" stroke="#d5232b" stroke-width="2.7"/>
<line x1="2191.6" y1="291" x2="2215.3" y2="291.5" stroke="#d5232b" stroke-width="2.7"/>
<line x1="2245.3" y1="291.5" x2="2267.2" y2="291" stroke="#d5232b" stroke-width="2.7"/>
<line x1="1999" y1="412.5" x2="2035.7" y2="393.7" stroke="#d5232b" stroke-width="2.7"/>
<line x1="2184.9" y1="382.7" x2="2216.7" y2="370.8" stroke="#d5232b" stroke-width="2.7"/>
<line x1="2184.2" y1="390.9" x2="2217.3" y2="402.9" stroke="#d5232b" stroke-width="2.7"/>
<line x1="1999" y1="424.4" x2="2035.7" y2="441.5" stroke="#d5232b" stroke-width="2.7"/>
<line x1="2181.8" y1="441.5" x2="2216.7" y2="437" stroke="#d5232b" stroke-width="2.7"/>
<line x1="2180.8" y1="445.6" x2="2216.7" y2="466" stroke="#d5232b" stroke-width="2.7"/>
<line x1="1994.7" y1="612.2" x2="2035.7" y2="571.3" stroke="#d5232b" stroke-width="2.7"/>
<line x1="2181.8" y1="552.5" x2="2216.7" y2="538.8" stroke="#d5232b" stroke-width="2.7"/>
<line x1="2183.5" y1="558.3" x2="2216.7" y2="572.3" stroke="#d5232b" stroke-width="2.7"/>
<line x1="1996.4" y1="617.4" x2="2035.7" y2="615" stroke="#d5232b" stroke-width="2.7"/>
<line x1="2181.8" y1="614" x2="2215" y2="605.8" stroke="#d5232b" stroke-width="2.7"/>
<line x1="2180" y1="619" x2="2216.7" y2="637.9" stroke="#d5232b" stroke-width="2.7"/>
<line x1="1994" y1="632.7" x2="2036.3" y2="702.8" stroke="#d5232b" stroke-width="2.7"/>
<line x1="1991" y1="926" x2="2020" y2="907" stroke="#d5232b" stroke-width="2.7"/>
<line x1="1990.6" y1="934.4" x2="2020" y2="958" stroke="#d5232b" stroke-width="2.7"/>
<line x1="1988.9" y1="1053.3" x2="2018.6" y2="1034" stroke="#d5232b" stroke-width="2.7"/>
<line x1="2159.2" y1="1037.8" x2="2183.7" y2="1034.8" stroke="#d5232b" stroke-width="2.7"/>
<line x1="2188.7" y1="1034.3" x2="2227" y2="1034" stroke="#d5232b" stroke-width="2.7"/>
<line x1="2227" y1="1034" x2="2262.5" y2="1032.4" stroke="#d5232b" stroke-width="2.7"/>
<line x1="1987.8" y1="1061.5" x2="2018.6" y2="1083" stroke="#d5232b" stroke-width="2.7"/>
<line x1="2156.5" y1="1094.1" x2="2184.7" y2="1088.8" stroke="#d5232b" stroke-width="2.7"/>
<line x1="2189.7" y1="1088.3" x2="2229" y2="1088" stroke="#d5232b" stroke-width="2.7"/>
<line x1="2229" y1="1088" x2="2265" y2="1086.4" stroke="#d5232b" stroke-width="2.7"/>
<line x1="1984.4" y1="1251" x2="2015" y2="1181" stroke="#d5232b" stroke-width="2.7"/>
<line x1="1984.4" y1="1251" x2="2015.8" y2="1239" stroke="#d5232b" stroke-width="2.7"/>
<line x1="1987" y1="1257.8" x2="2018.6" y2="1279.3" stroke="#d5232b" stroke-width="2.7"/>
<line x1="1987" y1="1263" x2="2021" y2="1336.4" stroke="#d5232b" stroke-width="2.7"/>
<line x1="2420" y1="1356.4" x2="2452.9" y2="1356.4" stroke="#d5232b" stroke-width="2.7"/>
<line x1="2420" y1="1400.6" x2="2452.9" y2="1400.6" stroke="#d5232b" stroke-width="2.7"/>
<line x1="2420" y1="1446.2" x2="2452.9" y2="1446.2" stroke="#d5232b" stroke-width="2.7"/>
<line x1="2419" y1="1487.8" x2="2451.9" y2="1487.8" stroke="#d5232b" stroke-width="2.7"/>
<line x1="2418.4" y1="1531" x2="2451.9" y2="1531" stroke="#d5232b" stroke-width="2.7"/>
<line x1="2418.4" y1="1576.2" x2="2451.9" y2="1576.2" stroke="#d5232b" stroke-width="2.7"/>
<line x1="2418.4" y1="1618.9" x2="2451.9" y2="1618.9" stroke="#d5232b" stroke-width="2.7"/>
<line x1="2418.4" y1="1662.6" x2="2451.9" y2="1662.6" stroke="#d5232b" stroke-width="2.7"/>
<line x1="2418.4" y1="1706" x2="2451.9" y2="1706" stroke="#d5232b" stroke-width="2.7"/>
<line x1="2418.4" y1="1748.6" x2="2451.9" y2="1748.6" stroke="#d5232b" stroke-width="2.7"/>
</g>
<g id="icons">
<use href="#cluster" x="243.5" y="11" width="35" height="36"/>
<use href="#wind" x="29.5" y="137.4" width="25" height="30.5"/>
<use href="#solar" x="29.5" y="195" width="40.8" height="27.3"/>
<use href="#bat1" x="143" y="166" width="21.4" height="38.5"/>
<use href="#wind" x="29.5" y="254.4" width="25" height="30.5"/>
<use href="#solar" x="29.5" y="312" width="40.8" height="27.3"/>
<use href="#bat1" x="143" y="283" width="21.4" height="38.5"/>
<use href="#wind" x="32.5" y="372.4" width="25" height="30.5"/>
<use href="#solar" x="32.5" y="430" width="40.8" height="27.3"/>
<use href="#bat1" x="146" y="401" width="21.4" height="38.5"/>
<use href="#wind" x="32.5" y="489.4" width="25" height="30.5"/>
<use href="#solar" x="32.5" y="547" width="40.8" height="27.3"/>
<use href="#bat1" x="146" y="518" width="21.4" height="38.5"/>
<use href="#wind" x="37.5" y="605.4" width="25" height="30.5"/>
<use href="#solar" x="37.5" y="663" width="40.8" height="27.3"/>
<use href="#bat1" x="151" y="634" width="21.4" height="38.5"/>
<use href="#wind" x="37.5" y="722.4" width="25" height="30.5"/>
<use href="#solar" x="37.5" y="780" width="40.8" height="27.3"/>
<use href="#bat1" x="151" y="751" width="21.4" height="38.5"/>
<use href="#wind" x="41.1" y="840" width="25" height="30.5"/>
<use href="#solar" x="41.1" y="897.6" width="40.8" height="27.3"/>
<use href="#bat1" x="154.6" y="868.6" width="21.4" height="38.5"/>
<use href="#wind" x="41.1" y="957.2" width="25" height="30.5"/>
<use href="#solar" x="41.1" y="1014.8" width="40.8" height="27.3"/>
<use href="#bat1" x="154.6" y="985.8" width="21.4" height="38.5"/>
<use href="#wind" x="40.2" y="1067" width="25" height="30.5"/>
<use href="#solar" x="40.2" y="1124.6" width="40.8" height="27.3"/>
<use href="#bat1" x="153.7" y="1095.6" width="21.4" height="38.5"/>
<use href="#wind" x="40.2" y="1184.1" width="25" height="30.5"/>
<use href="#solar" x="40.2" y="1241.7" width="40.8" height="27.3"/>
<use href="#bat1" x="153.7" y="1212.7" width="21.4" height="38.5"/>
<use href="#bat2" x="281" y="685.5" width="16" height="32.7"/>
<use href="#cluster" x="326" y="687" width="35" height="36"/>
<use href="#cluster" x="818" y="141" width="35" height="36"/>
<use href="#cluster" x="817" y="200" width="35" height="36"/>
<use href="#cluster" x="817" y="261" width="35" height="36"/>
<use href="#cluster" x="817" y="322" width="35" height="36"/>
<use href="#cluster" x="817.5" y="384" width="35" height="36"/>
<use href="#cluster" x="817" y="443" width="35" height="36"/>
<use href="#cluster" x="817" y="504.5" width="35" height="36"/>
<use href="#cluster" x="817" y="565" width="35" height="36"/>
<use href="#bec" x="887" y="142" width="32" height="34"/>
<use href="#bec" x="887" y="200.6" width="32" height="34"/>
<use href="#bec" x="886" y="258" width="32" height="34"/>
<use href="#bec" x="886" y="319" width="32" height="34"/>
<use href="#bec" x="887" y="385" width="32" height="34"/>
<use href="#bec" x="887" y="443.6" width="32" height="34"/>
<use href="#bec" x="886" y="500.6" width="32" height="34"/>
<use href="#bec" x="886" y="561.8" width="32" height="34"/>
<use href="#bec" x="888" y="627.6" width="32" height="34"/>
<use href="#bec" x="888" y="686.5" width="32" height="34"/>
<use href="#gen" x="622" y="559.6" width="48" height="33.2"/>
<use href="#gen" x="621" y="617" width="48" height="33.2"/>
<use href="#gen" x="621" y="677" width="48" height="33.2"/>
<use href="#gen" x="623" y="740.5" width="48" height="33.2"/>
<use href="#gen" x="622" y="799" width="48" height="33.2"/>
<use href="#gen" x="622" y="857.7" width="48" height="33.2"/>
<use href="#bat2" x="733" y="617.3" width="16" height="32.7"/>
<use href="#bat2" x="734" y="798" width="16" height="32.7"/>
<use href="#chain" x="1132.8" y="140" width="71.7" height="32.7"/>
<use href="#chain" x="1132.8" y="196" width="71.7" height="32.7"/>
<use href="#chain" x="1131.6" y="257" width="71.7" height="32.7"/>
<use href="#chain" x="1131.6" y="316" width="71.7" height="32.7"/>
<use href="#chain" x="1132.8" y="384" width="71.7" height="32.7"/>
<use href="#chain" x="1132.8" y="439.5" width="71.7" height="32.7"/>
<use href="#chain" x="1132" y="500.6" width="71.7" height="32.7"/>
<use href="#chain" x="1132" y="558" width="71.7" height="32.7"/>
<use href="#chain" x="1132" y="626" width="71.7" height="32.7"/>
<use href="#chain" x="1132" y="682" width="71.7" height="32.7"/>
<use href="#or" x="1259.3" y="175.2" width="24.3" height="13.3"/>
<use href="#or" x="1258.2" y="292.9" width="24.3" height="13.3"/>
<use href="#or" x="1257" y="422.2" width="24.3" height="13.3"/>
<use href="#or" x="1262" y="539.4" width="24.3" height="13.3"/>
<use href="#or" x="1259.5" y="664.4" width="24.3" height="13.3"/>
<use href="#bec" x="1323" y="161.5" width="32" height="34"/>
<use href="#bec" x="1321.6" y="276.5" width="32" height="34"/>
<use href="#bec" x="1318.5" y="409.3" width="32" height="34"/>
<use href="#bec" x="1319.7" y="525.8" width="32" height="34"/>
<use href="#bec" x="1321.6" y="651.3" width="32" height="34"/>
<use href="#chain" x="1575.6" y="144" width="71.7" height="32.7"/>
<use href="#chain" x="1574" y="199" width="71.7" height="32.7"/>
<use href="#chain" x="1573.7" y="254" width="71.7" height="32.7"/>
<use href="#chain" x="1572.7" y="311" width="71.7" height="32.7"/>
<use href="#chain" x="1570.8" y="368" width="71.7" height="32.7"/>
<use href="#chain" x="1571.5" y="428" width="71.7" height="32.7"/>
<use href="#chain" x="1570.8" y="488" width="71.7" height="32.7"/>
<use href="#chain" x="1570.8" y="544" width="71.7" height="32.7"/>
<use href="#chain" x="1570.8" y="600" width="71.7" height="32.7"/>
<use href="#chain" x="1572" y="659.3" width="71.7" height="32.7"/>
<use href="#bec" x="1909.5" y="167" width="32" height="34"/>
<use href="#bat2" x="1975" y="90" width="16" height="32.7"/>
<use href="#sw" x="2010.7" y="90" width="21.8" height="35.2"/>
<use href="#ctl" x="2050.8" y="95.4" width="24.4" height="24.4"/>
<use href="#bec" x="2095.4" y="90.5" width="32" height="34"/>
<use href="#trap" x="2157" y="79" width="34" height="22"/>
<use href="#trap" x="2211" y="79" width="34" height="22"/>
<use href="#trap" x="2263.5" y="79" width="34" height="22"/>
<use href="#trap" x="2157" y="110.5" width="34" height="22"/>
<use href="#trap" x="2211" y="110.5" width="34" height="22"/>
<use href="#trap" x="2263.5" y="110.5" width="34" height="22"/>
<use href="#bat2" x="1976.6" y="146" width="16" height="32.7"/>
<use href="#sw" x="2010.7" y="146" width="21.8" height="35.2"/>
<use href="#ctl" x="2049.8" y="148.8" width="24.4" height="24.4"/>
<use href="#bec" x="2096" y="139" width="32" height="34"/>
<use href="#trap" x="2158" y="140.7" width="34" height="22"/>
<use href="#trap" x="2212.2" y="140.7" width="34" height="22"/>
<use href="#trap" x="2264.5" y="140.7" width="34" height="22"/>
<use href="#trap" x="2158" y="169.5" width="34" height="22"/>
<use href="#trap" x="2212.2" y="169.5" width="34" height="22"/>
<use href="#trap" x="2264.5" y="169.5" width="34" height="22"/>
<use href="#bat2" x="1976.6" y="200" width="16" height="32.7"/>
<use href="#sw" x="2011.7" y="198.8" width="21.8" height="35.2"/>
<use href="#ctl" x="2052.5" y="202.3" width="24.4" height="24.4"/>
<use href="#bec" x="2095.4" y="194" width="32" height="34"/>
<use href="#trap" x="2159.6" y="196.3" width="34" height="22"/>
<use href="#trap" x="2213.3" y="196.3" width="34" height="22"/>
<use href="#trap" x="2265.2" y="196.3" width="34" height="22"/>
<use href="#trap" x="2159.6" y="224" width="34" height="22"/>
<use href="#trap" x="2213.3" y="224" width="34" height="22"/>
<use href="#trap" x="2265.2" y="224" width="34" height="22"/>
<use href="#bat2" x="1977.6" y="254.5" width="16" height="32.7"/>
<use href="#sw" x="2011.7" y="255.5" width="21.8" height="35.2"/>
<use href="#ctl" x="2051.5" y="259.3" width="24.4" height="24.4"/>
<use href="#bec" x="2097" y="252" width="32" height="34"/>
<use href="#trap" x="2159.6" y="252" width="34" height="22"/>
<use href="#trap" x="2213.3" y="252" width="34" height="22"/>
<use href="#trap" x="2265.2" y="252" width="34" height="22"/>
<use href="#trap" x="2159.6" y="279.5" width="34" height="22"/>
<use href="#trap" x="2213.3" y="279.5" width="34" height="22"/>
<use href="#trap" x="2265.2" y="279.5" width="34" height="22"/>
<use href="#bec" x="1968" y="399.5" width="32" height="34"/>
<use href="#bat2" x="2034" y="369.8" width="16" height="32.7"/>
<use href="#sw" x="2068.8" y="370.8" width="21.8" height="35.2"/>
<use href="#ctl" x="2109.5" y="375.7" width="24.4" height="24.4"/>
<use href="#bec" x="2152.8" y="365.7" width="32" height="34"/>
<use href="#turret" x="2215.6" y="353.7" width="41.4" height="26.2"/>
<use href="#turret" x="2273" y="353.7" width="41.4" height="26.2"/>
<use href="#turret" x="2215.6" y="387.9" width="41.4" height="26.2"/>
<use href="#turret" x="2273" y="387.9" width="41.4" height="26.2"/>
<use href="#bat2" x="2034" y="428.9" width="16" height="32.7"/>
<use href="#sw" x="2067.8" y="428.9" width="21.8" height="35.2"/>
<use href="#ctl" x="2107.8" y="431" width="24.4" height="24.4"/>
<use href="#bec" x="2151" y="422.7" width="32" height="34"/>
<use href="#turret" x="2214.6" y="422" width="41.4" height="26.2"/>
<use href="#turret" x="2272" y="422" width="41.4" height="26.2"/>
<use href="#turret" x="2214.6" y="452.8" width="41.4" height="26.2"/>
<use href="#turret" x="2272" y="452.8" width="41.4" height="26.2"/>
<use href="#bec" x="1966.3" y="601" width="32" height="34"/>
<use href="#bat2" x="2033" y="542.2" width="16" height="32.7"/>
<use href="#sw" x="2067.8" y="543" width="21.8" height="35.2"/>
<use href="#ctl" x="2108.2" y="547.1" width="24.4" height="24.4"/>
<use href="#bec" x="2151.8" y="537.8" width="32" height="34"/>
<use href="#turret" x="2214.6" y="525.8" width="41.4" height="26.2"/>
<use href="#turret" x="2272" y="525.8" width="41.4" height="26.2"/>
<use href="#turret" x="2214.6" y="560" width="41.4" height="26.2"/>
<use href="#turret" x="2272" y="560" width="41.4" height="26.2"/>
<use href="#bat2" x="2033" y="601.3" width="16" height="32.7"/>
<use href="#sw" x="2066.7" y="601" width="21.8" height="35.2"/>
<use href="#ctl" x="2106.8" y="603.5" width="24.4" height="24.4"/>
<use href="#bec" x="2150" y="594.5" width="32" height="34"/>
<use href="#turret" x="2214" y="594" width="41.4" height="26.2"/>
<use href="#turret" x="2270.6" y="594" width="41.4" height="26.2"/>
<use href="#turret" x="2214" y="624.9" width="41.4" height="26.2"/>
<use href="#turret" x="2270.6" y="624.9" width="41.4" height="26.2"/>
<use href="#bat2" x="2034" y="699.3" width="16" height="32.7"/>
<use href="#sw" x="2068.8" y="698.7" width="21.8" height="35.2"/>
<use href="#rail" x="2120" y="696.6" width="41.2" height="37.4"/>
<use href="#bec" x="1962" y="909.8" width="32" height="34"/>
<use href="#bat2" x="2017.9" y="888.3" width="16" height="32.7"/>
<use href="#sw" x="2056" y="888" width="21.8" height="35.2"/>
<use href="#bec" x="2103" y="889" width="32" height="34"/>
<use href="#arrow" x="2135.6" y="897.3" width="28.1" height="25.6"/>
<use href="#bat2" x="2017.9" y="947" width="16" height="32.7"/>
<use href="#sw" x="2055.5" y="946" width="21.8" height="35.2"/>
<use href="#bec" x="2101" y="946" width="32" height="34"/>
<use href="#arrow" x="2134.1" y="951.6" width="28.1" height="25.6"/>
<use href="#bec" x="1959.8" y="1036.9" width="32" height="34"/>
<use href="#bat2" x="2016" y="1015.4" width="16" height="32.7"/>
<use href="#sw" x="2054.4" y="1015.7" width="21.8" height="35.2"/>
<use href="#bec" x="2101" y="1017" width="32" height="34"/>
<use href="#arrow" x="2134.2" y="1023.6" width="26.4" height="24"/>
<use href="#light" x="2175.7" y="1019.8" width="26.4" height="31"/>
<use href="#light" x="2214" y="1019.8" width="26.4" height="31"/>
<use href="#light" x="2252.5" y="1019.8" width="26.4" height="31"/>
<use href="#bat2" x="2016" y="1074.5" width="16" height="32.7"/>
<use href="#sw" x="2053.4" y="1073.8" width="21.8" height="35.2"/>
<use href="#bec" x="2099.5" y="1073.8" width="32" height="34"/>
<use href="#arrow" x="2131.5" y="1079.9" width="26.4" height="24"/>
<use href="#light" x="2176.7" y="1073.8" width="26.4" height="31"/>
<use href="#light" x="2216" y="1073.8" width="26.4" height="31"/>
<use href="#light" x="2255" y="1073.8" width="26.4" height="31"/>
<use href="#bec" x="1959" y="1237.8" width="31" height="33"/>
<use href="#bat2" x="2014" y="1157" width="16" height="32.7"/>
<use href="#sw" x="2052.7" y="1157.8" width="21.8" height="35.2"/>
<use href="#bec" x="2099.5" y="1158.8" width="32" height="34"/>
<use href="#arrow" x="2144.6" y="1164.9" width="28.1" height="25.6"/>
<use href="#bat2" x="2014" y="1215.8" width="16" height="32.7"/>
<use href="#sw" x="2052" y="1215.8" width="21.8" height="35.2"/>
<use href="#bec" x="2097.8" y="1215.8" width="32" height="34"/>
<use href="#arrow" x="2143.6" y="1219.3" width="28.1" height="25.6"/>
<use href="#bat2" x="2014" y="1269" width="16" height="32.7"/>
<use href="#sw" x="2052.7" y="1269.8" width="21.8" height="35.2"/>
<use href="#bec" x="2099.5" y="1270.5" width="32" height="34"/>
<use href="#arrow" x="2143.6" y="1276.3" width="28.1" height="25.6"/>
<use href="#bat2" x="2014" y="1327.8" width="16" height="32.7"/>
<use href="#sw" x="2052" y="1327.8" width="21.8" height="35.2"/>
<use href="#bec" x="2162" y="1328.5" width="32" height="34"/>
<use href="#sw" x="1974" y="1568.8" width="21.8" height="35.2"/>
<use href="#bec" x="2014" y="1569.8" width="32" height="34"/>
<use href="#chain" x="2075" y="1416.4" width="71.7" height="32.7"/>
<use href="#xor" x="2299.8" y="1344.9" width="34" height="16.2"/>
<use href="#sw" x="2352.6" y="1338.8" width="21.8" height="35.2"/>
<use href="#ctl" x="2397.4" y="1344.2" width="24.4" height="24.4"/>
<use href="#shock" x="2442.4" y="1339" width="23" height="32"/>
<use href="#chain" x="2075" y="1454.4" width="71.7" height="32.7"/>
<use href="#xor" x="2300.8" y="1392.6" width="34" height="16.2"/>
<use href="#sw" x="2352.6" y="1383" width="21.8" height="35.2"/>
<use href="#ctl" x="2397.4" y="1388.4" width="24.4" height="24.4"/>
<use href="#shock" x="2442.4" y="1383.4" width="23" height="32"/>
<use href="#chain" x="2075" y="1492.4" width="71.7" height="32.7"/>
<use href="#xor" x="2302.5" y="1439.9" width="34" height="16.2"/>
<use href="#sw" x="2352.6" y="1428" width="21.8" height="35.2"/>
<use href="#ctl" x="2397.4" y="1434" width="24.4" height="24.4"/>
<use href="#shock" x="2442.4" y="1427.8" width="23" height="32"/>
<use href="#chain" x="2075" y="1530.4" width="71.7" height="32.7"/>
<use href="#xor" x="2302.5" y="1481.4" width="34" height="16.2"/>
<use href="#sw" x="2352.6" y="1469.6" width="21.8" height="35.2"/>
<use href="#ctl" x="2396.4" y="1475.6" width="24.4" height="24.4"/>
<use href="#shock" x="2441.4" y="1469.5" width="23" height="32"/>
<use href="#chain" x="2075" y="1568.9" width="71.7" height="32.7"/>
<use href="#xor" x="2302.5" y="1521.2" width="34" height="16.2"/>
<use href="#sw" x="2352.6" y="1513" width="21.8" height="35.2"/>
<use href="#ctl" x="2395.8" y="1518.8" width="24.4" height="24.4"/>
<use href="#shock" x="2441.4" y="1513.2" width="23" height="32"/>
<use href="#chain" x="2075" y="1606.9" width="71.7" height="32.7"/>
<use href="#xor" x="2302.5" y="1561.7" width="34" height="16.2"/>
<use href="#sw" x="2351" y="1558.5" width="21.8" height="35.2"/>
<use href="#ctl" x="2395.8" y="1564" width="24.4" height="24.4"/>
<use href="#shock" x="2441.4" y="1557.7" width="23" height="32"/>
<use href="#chain" x="2074" y="1647.2" width="71.7" height="32.7"/>
<use href="#xor" x="2302.5" y="1604.7" width="34" height="16.2"/>
<use href="#sw" x="2351" y="1601" width="21.8" height="35.2"/>
<use href="#ctl" x="2395.8" y="1606.7" width="24.4" height="24.4"/>
<use href="#shock" x="2441.4" y="1600.4" width="23" height="32"/>
<use href="#chain" x="2074" y="1685.4" width="71.7" height="32.7"/>
<use href="#xor" x="2302.5" y="1649.1" width="34" height="16.2"/>
<use href="#sw" x="2351" y="1645" width="21.8" height="35.2"/>
<use href="#ctl" x="2395.8" y="1650.4" width="24.4" height="24.4"/>
<use href="#shock" x="2441.4" y="1644.2" width="23" height="32"/>
<use href="#chain" x="2074" y="1724" width="71.7" height="32.7"/>
<use href="#xor" x="2302.5" y="1692.6" width="34" height="16.2"/>
<use href="#sw" x="2351" y="1687.6" width="21.8" height="35.2"/>
<use href="#ctl" x="2395.8" y="1693.8" width="24.4" height="24.4"/>
<use href="#shock" x="2441.4" y="1687.5" width="23" height="32"/>
<use href="#chain" x="2074" y="1762" width="71.7" height="32.7"/>
<use href="#xor" x="2302.5" y="1737.9" width="34" height="16.2"/>
<use href="#sw" x="2351" y="1731" width="21.8" height="35.2"/>
<use href="#ctl" x="2395.8" y="1736.4" width="24.4" height="24.4"/>
<use href="#shock" x="2441.4" y="1730.9" width="23" height="32"/>
<use href="#sw" x="1968" y="1831.8" width="21.8" height="35.2"/>
<use href="#bec" x="2008.3" y="1832.8" width="32" height="34"/>
<use href="#arrow" x="2043" y="1840" width="29" height="26.4"/>
<use href="#sw" x="1968" y="1895" width="21.8" height="35.2"/>
<use href="#bec" x="2008.3" y="1895.6" width="32" height="34"/>
<use href="#arrow" x="2041.8" y="1902.5" width="29" height="26.4"/>
<use href="#sw" x="1968" y="1954" width="21.8" height="35.2"/>
<use href="#bec" x="2008.3" y="1954.7" width="32" height="34"/>
<use href="#arrow" x="2042.5" y="1963" width="29" height="26.4"/>
<use href="#bat1" x="35.7" y="1358.5" width="21.4" height="38.5"/>
<use href="#bat2" x="37.5" y="1428" width="16" height="32.7"/>
<use href="#solar" x="28" y="1489" width="40.8" height="27.3"/>
<use href="#wind" x="37.9" y="1543.5" width="25" height="30.5"/>
<use href="#cluster" x="33" y="1605.5" width="35" height="36"/>
<use href="#bec" x="35" y="1664" width="32" height="34"/>
<use href="#chain" x="18" y="1718" width="71.7" height="32.7"/>
<use href="#gen" x="448.8" y="1360.2" width="48" height="33.2"/>
<use href="#bat2" x="464" y="1423" width="16" height="32.7"/>
<use href="#arrow" x="452" y="1480" width="29" height="26.4"/>
<use href="#xor" x="457" y="1521.5" width="34" height="16.2"/>
<use href="#orl" x="458.5" y="1548.2" width="25.8" height="13.8"/>
<use href="#sw" x="459.8" y="1573" width="21.8" height="35.2"/>
<use href="#turret" x="457.5" y="1618.8" width="41.4" height="26.2"/>
<use href="#trap" x="456.3" y="1656.3" width="34" height="22"/>
<use href="#ctl" x="460.5" y="1692.5" width="24.4" height="24.4"/>
<use href="#rail" x="456.8" y="1723.8" width="41.2" height="37.4"/>
<use href="#light" x="460.2" y="1775" width="26.4" height="31"/>
<use href="#shock" x="460.2" y="1822" width="23" height="32"/>
</g>
<g id="lines-front">
<line x1="72" y1="167" x2="146" y2="181.5" stroke="#d9222b" stroke-width="4.6"/>
<line x1="67" y1="201.5" x2="146" y2="181.5" stroke="#d9222b" stroke-width="4.6"/>
<line x1="164.5" y1="175" x2="292" y2="686" stroke="#d9222b" stroke-width="4.6"/>
<line x1="72" y1="284" x2="146" y2="298.5" stroke="#d9222b" stroke-width="4.6"/>
<line x1="67" y1="318.5" x2="146" y2="298.5" stroke="#d9222b" stroke-width="4.6"/>
<line x1="166" y1="299" x2="290" y2="687" stroke="#d9222b" stroke-width="4.6"/>
<line x1="75" y1="402" x2="149" y2="416.5" stroke="#d9222b" stroke-width="4.6"/>
<line x1="70" y1="436.5" x2="149" y2="416.5" stroke="#d9222b" stroke-width="4.6"/>
<line x1="167" y1="416" x2="287" y2="688" stroke="#d9222b" stroke-width="4.6"/>
<line x1="75" y1="519" x2="149" y2="533.5" stroke="#d9222b" stroke-width="4.6"/>
<line x1="70" y1="553.5" x2="149" y2="533.5" stroke="#d9222b" stroke-width="4.6"/>
<line x1="167.5" y1="533" x2="284" y2="690" stroke="#d9222b" stroke-width="4.6"/>
<line x1="80" y1="635" x2="154" y2="649.5" stroke="#d9222b" stroke-width="4.6"/>
<line x1="75" y1="669.5" x2="154" y2="649.5" stroke="#d9222b" stroke-width="4.6"/>
<line x1="171" y1="656" x2="282" y2="692" stroke="#d9222b" stroke-width="4.6"/>
<line x1="80" y1="752" x2="154" y2="766.5" stroke="#d9222b" stroke-width="4.6"/>
<line x1="75" y1="786.5" x2="154" y2="766.5" stroke="#d9222b" stroke-width="4.6"/>
<line x1="171" y1="769" x2="282" y2="700" stroke="#d9222b" stroke-width="4.6"/>
<line x1="83.6" y1="869.6" x2="157.6" y2="884.1" stroke="#d9222b" stroke-width="4.6"/>
<line x1="78.6" y1="904.1" x2="157.6" y2="884.1" stroke="#d9222b" stroke-width="4.6"/>
<line x1="176" y1="888" x2="283" y2="717" stroke="#d9222b" stroke-width="4.6"/>
<line x1="83.6" y1="986.8" x2="157.6" y2="1001.3" stroke="#d9222b" stroke-width="4.6"/>
<line x1="78.6" y1="1021.3" x2="157.6" y2="1001.3" stroke="#d9222b" stroke-width="4.6"/>
<line x1="175" y1="1015" x2="287" y2="717" stroke="#d9222b" stroke-width="4.6"/>
<line x1="82.7" y1="1096.6" x2="156.7" y2="1111.1" stroke="#d9222b" stroke-width="4.6"/>
<line x1="77.7" y1="1131.1" x2="156.7" y2="1111.1" stroke="#d9222b" stroke-width="4.6"/>
<line x1="174" y1="1131" x2="293" y2="717" stroke="#d9222b" stroke-width="4.6"/>
<line x1="82.7" y1="1213.7" x2="156.7" y2="1228.2" stroke="#d9222b" stroke-width="4.6"/>
<line x1="77.7" y1="1248.2" x2="156.7" y2="1228.2" stroke="#d9222b" stroke-width="4.6"/>
<line x1="176" y1="1249" x2="297" y2="717" stroke="#d9222b" stroke-width="4.6"/>
<line x1="353.4" y1="708.6" x2="826" y2="159.5" stroke="#e21f26" stroke-width="4.6"/>
<line x1="665.3" y1="580" x2="734.5" y2="626.5" stroke="#e21f26" stroke-width="4.5"/>
<line x1="667" y1="638" x2="734.5" y2="630.7" stroke="#e21f26" stroke-width="4.5"/>
<line x1="665" y1="693" x2="734.5" y2="634.5" stroke="#e21f26" stroke-width="4.5"/>
<line x1="749" y1="634" x2="890" y2="644.5" stroke="#e21f26" stroke-width="4.8"/>
<line x1="665" y1="761.6" x2="735.5" y2="808.5" stroke="#e21f26" stroke-width="4.5"/>
<line x1="668" y1="818" x2="735.5" y2="812" stroke="#e21f26" stroke-width="4.5"/>
<line x1="666" y1="873" x2="735.5" y2="815.5" stroke="#e21f26" stroke-width="4.5"/>
<line x1="749.5" y1="819" x2="891" y2="713" stroke="#e21f26" stroke-width="4.8"/>
<line x1="1204.3" y1="150.5" x2="1260.8" y2="177.7" stroke="#c1272d" stroke-width="3.1"/>
<line x1="1204.3" y1="219.3" x2="1261.8" y2="186.3" stroke="#c1272d" stroke-width="3.1"/>
<line x1="1203.1" y1="267.5" x2="1259.7" y2="295.3" stroke="#c1272d" stroke-width="3.1"/>
<line x1="1203.1" y1="339.3" x2="1260.7" y2="303.9" stroke="#c1272d" stroke-width="3.1"/>
<line x1="1204.3" y1="394.5" x2="1258.5" y2="424.6" stroke="#c1272d" stroke-width="3.1"/>
<line x1="1204.3" y1="462.8" x2="1259.5" y2="433.2" stroke="#c1272d" stroke-width="3.1"/>
<line x1="1203.5" y1="511.1" x2="1263.5" y2="541.8" stroke="#c1272d" stroke-width="3.1"/>
<line x1="1203.5" y1="581.3" x2="1264.5" y2="550.4" stroke="#c1272d" stroke-width="3.1"/>
<line x1="1203.5" y1="636.5" x2="1261" y2="666.8" stroke="#c1272d" stroke-width="3.1"/>
<line x1="1203.5" y1="705.3" x2="1262" y2="675.4" stroke="#c1272d" stroke-width="3.1"/>
<line x1="1647.5" y1="162.7" x2="1911" y2="186" stroke="#d5232b" stroke-width="3.1"/>
<line x1="1650" y1="217" x2="1969.7" y2="427.8" stroke="#d5232b" stroke-width="3.1"/>
<line x1="1645" y1="269" x2="1967.3" y2="619" stroke="#d5232b" stroke-width="3.1"/>
<line x1="1646" y1="330" x2="1977.6" y2="922.5" stroke="#d5232b" stroke-width="3.1"/>
<line x1="1641.5" y1="386.7" x2="1974.9" y2="1052" stroke="#d5232b" stroke-width="3.1"/>
<line x1="1643" y1="448" x2="1962" y2="1257.8" stroke="#d5232b" stroke-width="3.1"/>
<line x1="1641.5" y1="509" x2="1829" y2="1584" stroke="#d5232b" stroke-width="3.1"/>
<line x1="1637.4" y1="562" x2="1830.7" y2="1845.4" stroke="#d5232b" stroke-width="3.1"/>
<line x1="1640.8" y1="621.7" x2="1830.7" y2="1908.6" stroke="#d5232b" stroke-width="3.1"/>
<line x1="1643" y1="676.8" x2="1830.7" y2="1977" stroke="#d5232b" stroke-width="3.1"/>
<line x1="1989" y1="109.5" x2="2015.3" y2="107.5" stroke="#d5232b" stroke-width="2.7"/>
<line x1="2030.2" y1="110.5" x2="2053" y2="108.1" stroke="#d5232b" stroke-width="2.7"/>
<line x1="2073.4" y1="107.6" x2="2096.4" y2="111" stroke="#d5232b" stroke-width="2.7"/>
<line x1="1990.6" y1="165.5" x2="2015.3" y2="163.5" stroke="#d5232b" stroke-width="2.7"/>
<line x1="2030.2" y1="166.5" x2="2052" y2="161.5" stroke="#d5232b" stroke-width="2.7"/>
<line x1="2072.4" y1="161" x2="2097" y2="159.5" stroke="#d5232b" stroke-width="2.7"/>
<line x1="1990.6" y1="219.5" x2="2016.3" y2="216.3" stroke="#d5232b" stroke-width="2.7"/>
<line x1="2031.2" y1="219.3" x2="2054.7" y2="215" stroke="#d5232b" stroke-width="2.7"/>
<line x1="2075.1" y1="214.5" x2="2096.4" y2="214.5" stroke="#d5232b" stroke-width="2.7"/>
<line x1="1991.6" y1="274" x2="2016.3" y2="273" stroke="#d5232b" stroke-width="2.7"/>
<line x1="2031.2" y1="276" x2="2053.7" y2="272" stroke="#d5232b" stroke-width="2.7"/>
<line x1="2074.1" y1="271.5" x2="2098" y2="272.5" stroke="#d5232b" stroke-width="2.7"/>
<line x1="2049.3" y1="395.4" x2="2073.4" y2="393.7" stroke="#d5232b" stroke-width="2.7"/>
<line x1="2088.5" y1="392" x2="2112.5" y2="389.2" stroke="#d5232b" stroke-width="2.7"/>
<line x1="2132" y1="387.9" x2="2154.2" y2="387.9" stroke="#d5232b" stroke-width="2.7"/>
<line x1="2256" y1="369.8" x2="2276" y2="369.8" stroke="#d5232b" stroke-width="2.7"/>
<line x1="2256" y1="403.9" x2="2276" y2="402.9" stroke="#d5232b" stroke-width="2.7"/>
<line x1="2049.3" y1="443.2" x2="2072.4" y2="444.2" stroke="#d5232b" stroke-width="2.7"/>
<line x1="2087.5" y1="443.2" x2="2110" y2="443.2" stroke="#d5232b" stroke-width="2.7"/>
<line x1="2130.3" y1="442.5" x2="2151.8" y2="442.5" stroke="#d5232b" stroke-width="2.7"/>
<line x1="2255.3" y1="438" x2="2275" y2="438" stroke="#d5232b" stroke-width="2.7"/>
<line x1="2255.3" y1="468" x2="2275" y2="468" stroke="#d5232b" stroke-width="2.7"/>
<line x1="2048.6" y1="567.9" x2="2072.4" y2="565.5" stroke="#d5232b" stroke-width="2.7"/>
<line x1="2087.5" y1="561" x2="2110.8" y2="559.3" stroke="#d5232b" stroke-width="2.7"/>
<line x1="2130.6" y1="558.3" x2="2152.8" y2="558.3" stroke="#d5232b" stroke-width="2.7"/>
<line x1="2255.3" y1="539.5" x2="2275" y2="539.5" stroke="#d5232b" stroke-width="2.7"/>
<line x1="2255.3" y1="574.7" x2="2275" y2="574.7" stroke="#d5232b" stroke-width="2.7"/>
<line x1="2048.6" y1="614" x2="2071.3" y2="614.6" stroke="#d5232b" stroke-width="2.7"/>
<line x1="2086.4" y1="616.4" x2="2109" y2="616.4" stroke="#d5232b" stroke-width="2.7"/>
<line x1="2129.6" y1="615.7" x2="2151" y2="615.7" stroke="#d5232b" stroke-width="2.7"/>
<line x1="2254.2" y1="608.8" x2="2273.6" y2="607.8" stroke="#d5232b" stroke-width="2.7"/>
<line x1="2254.2" y1="638.9" x2="2273.6" y2="638.9" stroke="#d5232b" stroke-width="2.7"/>
<line x1="2047.6" y1="712.3" x2="2073.5" y2="714.2" stroke="#d5232b" stroke-width="2.7"/>
<line x1="2088.3" y1="715.7" x2="2129.6" y2="715.7" stroke="#d5232b" stroke-width="2.7"/>
<line x1="2031.9" y1="908.8" x2="2060.6" y2="907.5" stroke="#d5232b" stroke-width="2.7"/>
<line x1="2075.5" y1="908.5" x2="2104" y2="908.5" stroke="#d5232b" stroke-width="2.7"/>
<line x1="2031.9" y1="967.5" x2="2060.1" y2="965.5" stroke="#d5232b" stroke-width="2.7"/>
<line x1="2075" y1="966.5" x2="2102" y2="965.5" stroke="#d5232b" stroke-width="2.7"/>
<line x1="2030" y1="1035.9" x2="2059" y2="1035.2" stroke="#d5232b" stroke-width="2.7"/>
<line x1="2073.9" y1="1036.2" x2="2102" y2="1036.5" stroke="#d5232b" stroke-width="2.7"/>
<line x1="2030" y1="1095" x2="2058" y2="1093.3" stroke="#d5232b" stroke-width="2.7"/>
<line x1="2072.9" y1="1094.3" x2="2100.5" y2="1093.3" stroke="#d5232b" stroke-width="2.7"/>
<line x1="2028" y1="1177.5" x2="2057.3" y2="1177.3" stroke="#d5232b" stroke-width="2.7"/>
<line x1="2072.2" y1="1178.3" x2="2100.5" y2="1178.3" stroke="#d5232b" stroke-width="2.7"/>
<line x1="2028" y1="1236.3" x2="2056.6" y2="1235.3" stroke="#d5232b" stroke-width="2.7"/>
<line x1="2071.5" y1="1236.3" x2="2098.8" y2="1235.3" stroke="#d5232b" stroke-width="2.7"/>
<line x1="2028" y1="1289.5" x2="2057.3" y2="1289.3" stroke="#d5232b" stroke-width="2.7"/>
<line x1="2072.2" y1="1290.3" x2="2100.5" y2="1290" stroke="#d5232b" stroke-width="2.7"/>
<line x1="2028" y1="1347.7" x2="2057" y2="1347.7" stroke="#d5232b" stroke-width="2.7"/>
<line x1="2071.5" y1="1347.7" x2="2163" y2="1347.7" stroke="#d5232b" stroke-width="2.7"/>
<line x1="1994.7" y1="1589.3" x2="2015.2" y2="1591" stroke="#d5232b" stroke-width="2.7"/>
<line x1="2040.8" y1="1585.3" x2="2077.5" y2="1434" stroke="#e01f27" stroke-width="2.9"/>
<line x1="2146.5" y1="1433.5" x2="2303.8" y2="1357" stroke="#3d44b9" stroke-width="2.8"/>
<line x1="2189" y1="1340" x2="2303.8" y2="1348.4" stroke="#2fa550" stroke-width="2.8"/>
<line x1="2333.3" y1="1355.2" x2="2353.4" y2="1355.8" stroke="#d5232b" stroke-width="2.7"/>
<line x1="2374" y1="1356.4" x2="2399.4" y2="1356.4" stroke="#d5232b" stroke-width="2.7"/>
<line x1="2040.8" y1="1585.9" x2="2077.5" y2="1472" stroke="#e01f27" stroke-width="2.9"/>
<line x1="2146.5" y1="1471.5" x2="2304.8" y2="1404.7" stroke="#3d44b9" stroke-width="2.8"/>
<line x1="2180" y1="1358.5" x2="2304.8" y2="1396.1" stroke="#2fa550" stroke-width="2.8"/>
<line x1="2334.3" y1="1399.4" x2="2353.4" y2="1400" stroke="#d5232b" stroke-width="2.7"/>
<line x1="2374" y1="1400.6" x2="2399.4" y2="1400.6" stroke="#d5232b" stroke-width="2.7"/>
<line x1="2040.8" y1="1586.5" x2="2077.5" y2="1510" stroke="#e01f27" stroke-width="2.9"/>
<line x1="2146.5" y1="1509.5" x2="2306.5" y2="1452" stroke="#3d44b9" stroke-width="2.8"/>
<line x1="2181" y1="1358.5" x2="2306.5" y2="1443.4" stroke="#2fa550" stroke-width="2.8"/>
<line x1="2336" y1="1445" x2="2353.4" y2="1445.6" stroke="#d5232b" stroke-width="2.7"/>
<line x1="2374" y1="1446.2" x2="2399.4" y2="1446.2" stroke="#d5232b" stroke-width="2.7"/>
<line x1="2040.8" y1="1587.1" x2="2077.5" y2="1548" stroke="#e01f27" stroke-width="2.9"/>
<line x1="2146.5" y1="1547.5" x2="2306.5" y2="1493.5" stroke="#3d44b9" stroke-width="2.8"/>
<line x1="2182" y1="1358.5" x2="2306.5" y2="1484.9" stroke="#2fa550" stroke-width="2.8"/>
<line x1="2336" y1="1486.6" x2="2353.4" y2="1487.2" stroke="#d5232b" stroke-width="2.7"/>
<line x1="2374" y1="1487.8" x2="2398.4" y2="1487.8" stroke="#d5232b" stroke-width="2.7"/>
<line x1="2040.8" y1="1587.7" x2="2077.5" y2="1586.5" stroke="#e01f27" stroke-width="2.9"/>
<line x1="2146.5" y1="1586" x2="2306.5" y2="1533.3" stroke="#3d44b9" stroke-width="2.8"/>
<line x1="2183" y1="1358.5" x2="2306.5" y2="1524.7" stroke="#2fa550" stroke-width="2.8"/>
<line x1="2336" y1="1529.8" x2="2353.4" y2="1530.4" stroke="#d5232b" stroke-width="2.7"/>
<line x1="2374" y1="1531" x2="2397.8" y2="1531" stroke="#d5232b" stroke-width="2.7"/>
<line x1="2040.8" y1="1588.3" x2="2077.5" y2="1624.5" stroke="#e01f27" stroke-width="2.9"/>
<line x1="2146.5" y1="1624" x2="2306.5" y2="1573.8" stroke="#3d44b9" stroke-width="2.8"/>
<line x1="2184" y1="1358.5" x2="2306.5" y2="1565.2" stroke="#2fa550" stroke-width="2.8"/>
<line x1="2336" y1="1575" x2="2351.8" y2="1575.6" stroke="#d5232b" stroke-width="2.7"/>
<line x1="2372.4" y1="1576.2" x2="2397.8" y2="1576.2" stroke="#d5232b" stroke-width="2.7"/>
<line x1="2040.8" y1="1588.9" x2="2076.5" y2="1664.8" stroke="#e01f27" stroke-width="2.9"/>
<line x1="2145.5" y1="1664.3" x2="2306.5" y2="1616.8" stroke="#3d44b9" stroke-width="2.8"/>
<line x1="2185" y1="1358.5" x2="2306.5" y2="1608.2" stroke="#2fa550" stroke-width="2.8"/>
<line x1="2336" y1="1617.7" x2="2351.8" y2="1618.3" stroke="#d5232b" stroke-width="2.7"/>
<line x1="2372.4" y1="1618.9" x2="2397.8" y2="1618.9" stroke="#d5232b" stroke-width="2.7"/>
<line x1="2040.8" y1="1589.5" x2="2076.5" y2="1703" stroke="#e01f27" stroke-width="2.9"/>
<line x1="2145.5" y1="1702.5" x2="2306.5" y2="1661.2" stroke="#3d44b9" stroke-width="2.8"/>
<line x1="2186" y1="1358.5" x2="2306.5" y2="1652.6" stroke="#2fa550" stroke-width="2.8"/>
<line x1="2336" y1="1661.4" x2="2351.8" y2="1662" stroke="#d5232b" stroke-width="2.7"/>
<line x1="2372.4" y1="1662.6" x2="2397.8" y2="1662.6" stroke="#d5232b" stroke-width="2.7"/>
<line x1="2040.8" y1="1590.1" x2="2076.5" y2="1741.6" stroke="#e01f27" stroke-width="2.9"/>
<line x1="2145.5" y1="1741.1" x2="2306.5" y2="1704.7" stroke="#3d44b9" stroke-width="2.8"/>
<line x1="2187" y1="1358.5" x2="2306.5" y2="1696.1" stroke="#2fa550" stroke-width="2.8"/>
<line x1="2336" y1="1704.8" x2="2351.8" y2="1705.4" stroke="#d5232b" stroke-width="2.7"/>
<line x1="2372.4" y1="1706" x2="2397.8" y2="1706" stroke="#d5232b" stroke-width="2.7"/>
<line x1="2040.8" y1="1590.7" x2="2076.5" y2="1779.6" stroke="#e01f27" stroke-width="2.9"/>
<line x1="2145.5" y1="1779.1" x2="2306.5" y2="1750" stroke="#3d44b9" stroke-width="2.8"/>
<line x1="2188" y1="1358.5" x2="2306.5" y2="1741.4" stroke="#2fa550" stroke-width="2.8"/>
<line x1="2336" y1="1747.4" x2="2351.8" y2="1748" stroke="#d5232b" stroke-width="2.7"/>
<line x1="2372.4" y1="1748.6" x2="2397.8" y2="1748.6" stroke="#d5232b" stroke-width="2.7"/>
<line x1="1988.9" y1="1852.3" x2="2009.5" y2="1852.3" stroke="#d5232b" stroke-width="2.7"/>
<line x1="1987.8" y1="1915.4" x2="2009.5" y2="1917.8" stroke="#d5232b" stroke-width="2.7"/>
<line x1="1988.9" y1="1973.5" x2="2009.5" y2="1975.2" stroke="#d5232b" stroke-width="2.7"/>
</g>
<g id="text">
<text x="18" y="39.6" font-size="32" font-weight="bold" fill="#000">Input Cluster:</text>
<rect x="18" y="43" width="207.5" height="3.2" fill="#000"/>
<text x="795" y="39.8" font-size="32" font-weight="bold" fill="#000">Storage Array:</text>
<rect x="795" y="43" width="221" height="3.2" fill="#000"/>
<text x="1818.5" y="29" font-size="33.5" font-weight="bold" fill="#000" textLength="434" lengthAdjust="spacingAndGlyphs" stroke="#000" stroke-width="0.9">4 - DISTRIBUTION HUB:</text>
<rect x="1818.5" y="30.3" width="434.5" height="3.6" fill="#000"/>
<text x="65" y="165.5" font-size="22" font-weight="bold" fill="#000">x7</text>
<text x="79" y="220" font-size="22" font-weight="bold" fill="#000">x3</text>
<text x="117" y="153.5" font-size="23" font-weight="bold" fill="#3aa655">(+475)</text>
<text x="65" y="282.5" font-size="22" font-weight="bold" fill="#000">x7</text>
<text x="79" y="337" font-size="22" font-weight="bold" fill="#000">x3</text>
<text x="117" y="270.5" font-size="23" font-weight="bold" fill="#3aa655">(+475)</text>
<text x="68" y="400.5" font-size="22" font-weight="bold" fill="#000">x7</text>
<text x="82" y="455" font-size="22" font-weight="bold" fill="#000">x3</text>
<text x="120" y="388.5" font-size="23" font-weight="bold" fill="#3aa655">(+475)</text>
<text x="68" y="517.5" font-size="22" font-weight="bold" fill="#000">x7</text>
<text x="82" y="572" font-size="22" font-weight="bold" fill="#000">x3</text>
<text x="120" y="505.5" font-size="23" font-weight="bold" fill="#3aa655">(+475)</text>
<text x="73" y="633.5" font-size="22" font-weight="bold" fill="#000">x7</text>
<text x="87" y="688" font-size="22" font-weight="bold" fill="#000">x3</text>
<text x="125" y="621.5" font-size="23" font-weight="bold" fill="#3aa655">(+475)</text>
<text x="73" y="750.5" font-size="22" font-weight="bold" fill="#000">x7</text>
<text x="87" y="805" font-size="22" font-weight="bold" fill="#000">x3</text>
<text x="125" y="738.5" font-size="23" font-weight="bold" fill="#3aa655">(+475)</text>
<text x="76.6" y="868.1" font-size="22" font-weight="bold" fill="#000">x7</text>
<text x="90.6" y="922.6" font-size="22" font-weight="bold" fill="#000">x3</text>
<text x="128.6" y="856.1" font-size="23" font-weight="bold" fill="#3aa655">(+475)</text>
<text x="76.6" y="985.3" font-size="22" font-weight="bold" fill="#000">x7</text>
<text x="90.6" y="1039.8" font-size="22" font-weight="bold" fill="#000">x3</text>
<text x="128.6" y="973.3" font-size="23" font-weight="bold" fill="#3aa655">(+475)</text>
<text x="75.7" y="1095.1" font-size="22" font-weight="bold" fill="#000">x7</text>
<text x="89.7" y="1149.6" font-size="22" font-weight="bold" fill="#000">x3</text>
<text x="127.7" y="1083.1" font-size="23" font-weight="bold" fill="#3aa655">(+475)</text>
<text x="75.7" y="1212.2" font-size="22" font-weight="bold" fill="#000">x7</text>
<text x="89.7" y="1266.7" font-size="22" font-weight="bold" fill="#000">x3</text>
<text x="127.7" y="1200.2" font-size="23" font-weight="bold" fill="#3aa655">(+475)</text>
<text x="294" y="675" font-size="23" font-weight="bold" fill="#3aa655">+4,640</text>
<text x="312.6" y="773.4" font-size="27.6" font-weight="bold" fill="#000">x8</text>
<text x="1122" y="118.5" font-size="31" font-weight="bold" fill="#000">10x ea.</text>
<text x="1567" y="125" font-size="28" font-weight="bold" fill="#000">1-3x ea.</text>
<text x="1853" y="151" font-size="25.8" fill="#000" textLength="77.5" lengthAdjust="spacingAndGlyphs">TRAPS</text>
<text x="2313" y="122" font-size="25.8" fill="#000" textLength="88" lengthAdjust="spacingAndGlyphs">ZONE 1</text>
<text x="2315.7" y="181" font-size="25.8" fill="#000" textLength="89.3" lengthAdjust="spacingAndGlyphs">ZONE 2</text>
<text x="2318" y="234" font-size="25.8" fill="#000" textLength="89" lengthAdjust="spacingAndGlyphs">ZONE 3</text>
<text x="2319" y="290" font-size="25.8" fill="#000" textLength="89.6" lengthAdjust="spacingAndGlyphs">ZONE 4</text>
<text x="1878.5" y="358.5" font-size="25.8" fill="#000" textLength="121.3" lengthAdjust="spacingAndGlyphs">INTERNAL</text>
<text x="1883" y="385" font-size="25.8" fill="#000" textLength="111.7" lengthAdjust="spacingAndGlyphs">TURRETS</text>
<text x="1874" y="554.5" font-size="25.8" fill="#000" textLength="124" lengthAdjust="spacingAndGlyphs">EXTERNAL</text>
<text x="1877.9" y="583.2" font-size="25.8" fill="#000" textLength="111" lengthAdjust="spacingAndGlyphs">TURRETS</text>
<text x="1862" y="885" font-size="25.8" fill="#000" textLength="99" lengthAdjust="spacingAndGlyphs">REMOTE</text>
<text x="1863.9" y="912.6" font-size="25.8" fill="#000" textLength="70" lengthAdjust="spacingAndGlyphs">SITES</text>
<text x="1862" y="1026" font-size="25.8" fill="#000" textLength="89" lengthAdjust="spacingAndGlyphs">LIGHTS</text>
<text x="1851" y="1228.8" font-size="25.8" fill="#000" textLength="130" lengthAdjust="spacingAndGlyphs">AUXILIARY</text>
<text x="2183" y="1183.5" font-size="12.6" font-weight="bold" fill="#000" textLength="67.8" lengthAdjust="spacingAndGlyphs" stroke="#000" stroke-width="0.45">(REPEAT)</text>
<text x="2184" y="1235.6" font-size="12.6" font-weight="bold" fill="#000" textLength="68" lengthAdjust="spacingAndGlyphs" stroke="#000" stroke-width="0.45">(REPEAT)</text>
<text x="2186" y="1293.7" font-size="12.6" font-weight="bold" fill="#000" textLength="67.6" lengthAdjust="spacingAndGlyphs" stroke="#000" stroke-width="0.45">(REPEAT)</text>
<text x="1828" y="1595" font-size="25.8" fill="#000" textLength="132.5" lengthAdjust="spacingAndGlyphs">SHOCKERS</text>
<text x="2090" y="1406" font-size="27.3" font-weight="bold" fill="#000">1-3x</text>
<text x="1828" y="1857.4" font-size="25.8" fill="#000" textLength="132.5" lengthAdjust="spacingAndGlyphs">SHOCKERS</text>
<text x="2082.4" y="1857.4" font-size="12.6" font-weight="bold" fill="#000" textLength="67" lengthAdjust="spacingAndGlyphs" stroke="#000" stroke-width="0.45">(REPEAT)</text>
<text x="1828" y="1920.6" font-size="25.8" fill="#000" textLength="132.5" lengthAdjust="spacingAndGlyphs">SHOCKERS</text>
<text x="2081.4" y="1919.9" font-size="12.6" font-weight="bold" fill="#000" textLength="67" lengthAdjust="spacingAndGlyphs" stroke="#000" stroke-width="0.45">(REPEAT)</text>
<text x="1829" y="1981.4" font-size="25.8" fill="#000" textLength="132.5" lengthAdjust="spacingAndGlyphs">SHOCKERS</text>
<text x="2080.4" y="1979.3" font-size="12.6" font-weight="bold" fill="#000" textLength="66.9" lengthAdjust="spacingAndGlyphs" stroke="#000" stroke-width="0.45">(REPEAT)</text>
<rect x="0" y="1278.4" width="884" height="7.6" fill="#000"/>
<rect x="876" y="1278.4" width="8" height="730" fill="#000"/>
<text x="73" y="1387.3" font-size="23.4" font-weight="bold" fill="#000">Tier 1 Battery</text>
<text x="75" y="1452" font-size="23.4" font-weight="bold" fill="#000">Tier 2 Battery</text>
<text x="80.7" y="1510.5" font-size="23.8" font-weight="bold" fill="#000">Solar Panel</text>
<text x="85.3" y="1568.6" font-size="24.3" font-weight="bold" fill="#000">Wind Turbine</text>
<text x="93.7" y="1631.6" font-size="29" font-weight="bold" fill="#000">1 Input Cluster</text>
<text x="97.8" y="1685" font-size="28" font-weight="bold" fill="#000">B.E.C.</text>
<text x="110.8" y="1741.7" font-size="28.7" font-weight="bold" fill="#000">Small Battery Chain</text>
<text x="511" y="1383.5" font-size="32" font-weight="bold" fill="#000">Gas Generator</text>
<text x="511.8" y="1450.3" font-size="32" font-weight="bold" fill="#000">Tier 2 Battery</text>
<text x="508.5" y="1493.8" font-size="11.6" font-weight="bold" fill="#000" textLength="62.4" lengthAdjust="spacingAndGlyphs" stroke="#000" stroke-width="0.45">MULTIPLE</text>
<text x="508.5" y="1506.6" font-size="11.6" font-weight="bold" fill="#000" textLength="58.5" lengthAdjust="spacingAndGlyphs" stroke="#000" stroke-width="0.45">OUTPUTS</text>
<text x="511.8" y="1534.7" font-size="11.6" font-weight="bold" fill="#000" textLength="63" lengthAdjust="spacingAndGlyphs" stroke="#000" stroke-width="0.45">XOR GATE</text>
<text x="511.4" y="1560.8" font-size="11.6" font-weight="bold" fill="#000" textLength="54.6" lengthAdjust="spacingAndGlyphs" stroke="#000" stroke-width="0.45">OR GATE</text>
<text x="512.2" y="1596" font-size="11.6" font-weight="bold" fill="#000" textLength="50.5" lengthAdjust="spacingAndGlyphs" stroke="#000" stroke-width="0.45">SWITCH</text>
<text x="513" y="1637.9" font-size="11.6" font-weight="bold" fill="#000" textLength="47.5" lengthAdjust="spacingAndGlyphs" stroke="#000" stroke-width="0.45">TURRET</text>
<text x="513.6" y="1674.7" font-size="11.6" font-weight="bold" fill="#000" textLength="32.1" lengthAdjust="spacingAndGlyphs" stroke="#000" stroke-width="0.45">TRAP</text>
<text x="513" y="1711" font-size="11.6" font-weight="bold" fill="#000" textLength="117" lengthAdjust="spacingAndGlyphs" stroke="#000" stroke-width="0.45">TRAP CONTROLLER</text>
<text x="513" y="1749.1" font-size="11.6" font-weight="bold" fill="#000" textLength="56.4" lengthAdjust="spacingAndGlyphs" stroke="#000" stroke-width="0.45">RAILGUN</text>
<text x="512.7" y="1798.8" font-size="11.6" font-weight="bold" fill="#000" textLength="37.7" lengthAdjust="spacingAndGlyphs" stroke="#000" stroke-width="0.45">LIGHT</text>
<text x="513" y="1837.6" font-size="11.6" font-weight="bold" fill="#000" textLength="50.3" lengthAdjust="spacingAndGlyphs" stroke="#000" stroke-width="0.45">PLASMA</text>
<text x="513" y="1851" font-size="11.6" font-weight="bold" fill="#000" textLength="58" lengthAdjust="spacingAndGlyphs" stroke="#000" stroke-width="0.45">SHOCKER</text>
</g>
</svg>
</body></html>
